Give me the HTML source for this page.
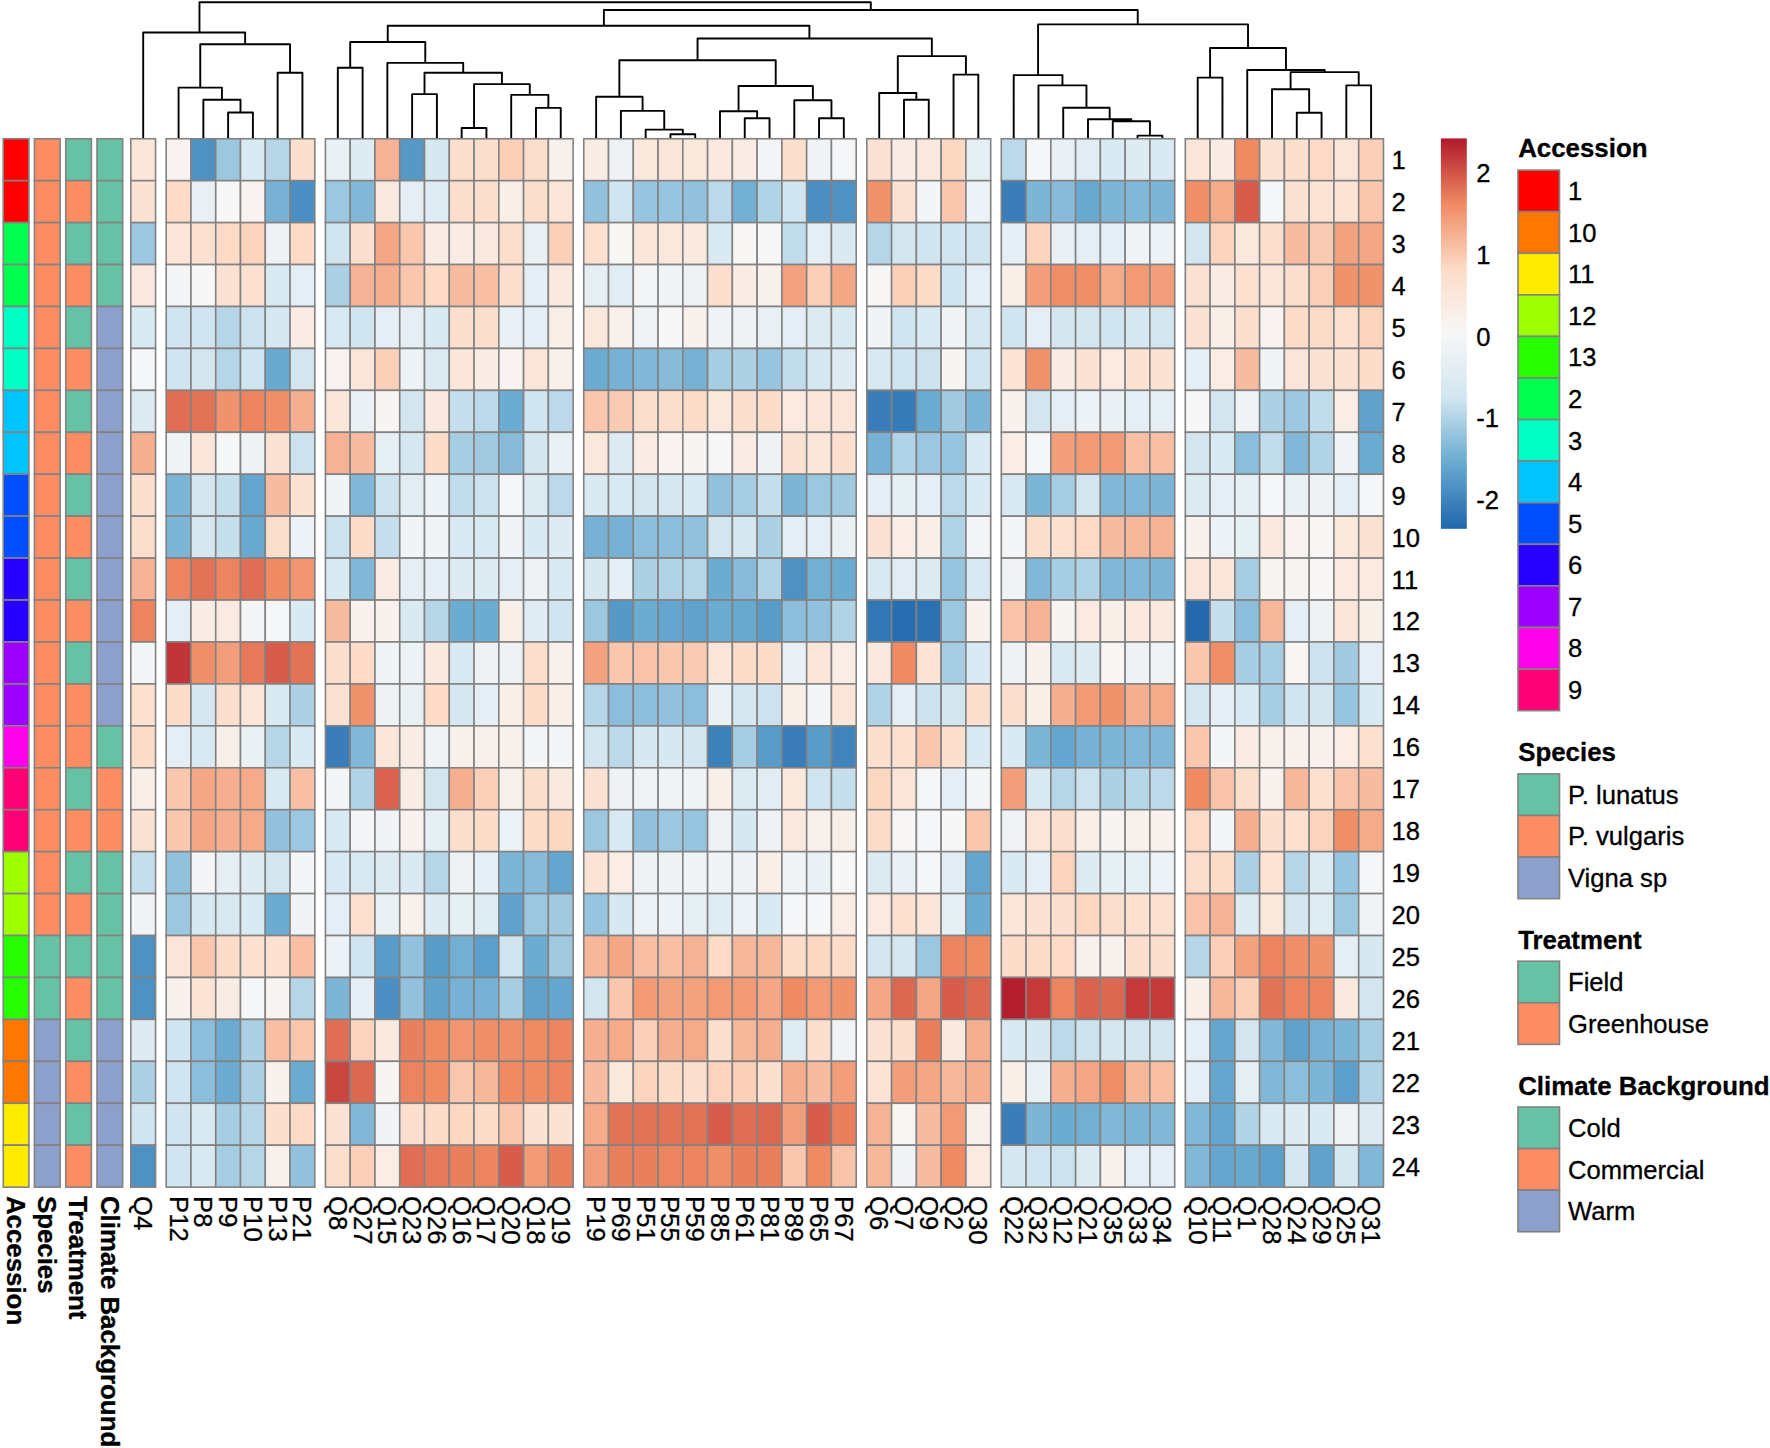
<!DOCTYPE html>
<html><head><meta charset="utf-8"><title>Heatmap</title>
<style>
html,body{margin:0;padding:0;background:#fff;}
body{width:1770px;height:1448px;overflow:hidden;}
svg{display:block;}
text{font-family:"Liberation Sans",Arial,Helvetica,sans-serif;font-size:25.6px;fill:#000;stroke:#000;stroke-width:0.3px;}
.b{font-weight:bold;font-size:25.85px;}
</style></head><body>
<svg width="1770" height="1448" viewBox="0 0 1770 1448">
<defs><linearGradient id="cb" x1="0" y1="0" x2="0" y2="1"><stop offset="0.0000" stop-color="#B2182B"/><stop offset="0.1667" stop-color="#EF8A62"/><stop offset="0.3333" stop-color="#FDDBC7"/><stop offset="0.5000" stop-color="#F7F7F7"/><stop offset="0.6667" stop-color="#D1E5F0"/><stop offset="0.8333" stop-color="#67A9CF"/><stop offset="1.0000" stop-color="#2166AC"/></linearGradient></defs>
<rect x="0" y="0" width="1770" height="1448" fill="#fff"/>
<g id="annotations" shape-rendering="auto">
<rect x="3.25" y="138.75" width="25.65" height="41.94" fill="#FF0000" stroke="#828282" stroke-width="1.60"/><rect x="3.25" y="180.69" width="25.65" height="41.94" fill="#FF0000" stroke="#828282" stroke-width="1.60"/><rect x="3.25" y="222.62" width="25.65" height="41.94" fill="#00FF4E" stroke="#828282" stroke-width="1.60"/><rect x="3.25" y="264.56" width="25.65" height="41.94" fill="#00FF4E" stroke="#828282" stroke-width="1.60"/><rect x="3.25" y="306.49" width="25.65" height="41.94" fill="#00FFC4" stroke="#828282" stroke-width="1.60"/><rect x="3.25" y="348.43" width="25.65" height="41.94" fill="#00FFC4" stroke="#828282" stroke-width="1.60"/><rect x="3.25" y="390.37" width="25.65" height="41.94" fill="#00C4FF" stroke="#828282" stroke-width="1.60"/><rect x="3.25" y="432.30" width="25.65" height="41.94" fill="#00C4FF" stroke="#828282" stroke-width="1.60"/><rect x="3.25" y="474.24" width="25.65" height="41.94" fill="#004EFF" stroke="#828282" stroke-width="1.60"/><rect x="3.25" y="516.17" width="25.65" height="41.94" fill="#004EFF" stroke="#828282" stroke-width="1.60"/><rect x="3.25" y="558.11" width="25.65" height="41.94" fill="#2700FF" stroke="#828282" stroke-width="1.60"/><rect x="3.25" y="600.05" width="25.65" height="41.94" fill="#2700FF" stroke="#828282" stroke-width="1.60"/><rect x="3.25" y="641.98" width="25.65" height="41.94" fill="#9D00FF" stroke="#828282" stroke-width="1.60"/><rect x="3.25" y="683.92" width="25.65" height="41.94" fill="#9D00FF" stroke="#828282" stroke-width="1.60"/><rect x="3.25" y="725.85" width="25.65" height="41.94" fill="#FF00EB" stroke="#828282" stroke-width="1.60"/><rect x="3.25" y="767.79" width="25.65" height="41.94" fill="#FF0076" stroke="#828282" stroke-width="1.60"/><rect x="3.25" y="809.73" width="25.65" height="41.94" fill="#FF0076" stroke="#828282" stroke-width="1.60"/><rect x="3.25" y="851.66" width="25.65" height="41.94" fill="#9DFF00" stroke="#828282" stroke-width="1.60"/><rect x="3.25" y="893.60" width="25.65" height="41.94" fill="#9DFF00" stroke="#828282" stroke-width="1.60"/><rect x="3.25" y="935.53" width="25.65" height="41.94" fill="#27FF00" stroke="#828282" stroke-width="1.60"/><rect x="3.25" y="977.47" width="25.65" height="41.94" fill="#27FF00" stroke="#828282" stroke-width="1.60"/><rect x="3.25" y="1019.41" width="25.65" height="41.94" fill="#FF7600" stroke="#828282" stroke-width="1.60"/><rect x="3.25" y="1061.34" width="25.65" height="41.94" fill="#FF7600" stroke="#828282" stroke-width="1.60"/><rect x="3.25" y="1103.28" width="25.65" height="41.94" fill="#FFEB00" stroke="#828282" stroke-width="1.60"/><rect x="3.25" y="1145.21" width="25.65" height="41.94" fill="#FFEB00" stroke="#828282" stroke-width="1.60"/>
<rect x="34.45" y="138.75" width="25.65" height="41.94" fill="#FC8D62" stroke="#828282" stroke-width="1.60"/><rect x="34.45" y="180.69" width="25.65" height="41.94" fill="#FC8D62" stroke="#828282" stroke-width="1.60"/><rect x="34.45" y="222.62" width="25.65" height="41.94" fill="#FC8D62" stroke="#828282" stroke-width="1.60"/><rect x="34.45" y="264.56" width="25.65" height="41.94" fill="#FC8D62" stroke="#828282" stroke-width="1.60"/><rect x="34.45" y="306.49" width="25.65" height="41.94" fill="#FC8D62" stroke="#828282" stroke-width="1.60"/><rect x="34.45" y="348.43" width="25.65" height="41.94" fill="#FC8D62" stroke="#828282" stroke-width="1.60"/><rect x="34.45" y="390.37" width="25.65" height="41.94" fill="#FC8D62" stroke="#828282" stroke-width="1.60"/><rect x="34.45" y="432.30" width="25.65" height="41.94" fill="#FC8D62" stroke="#828282" stroke-width="1.60"/><rect x="34.45" y="474.24" width="25.65" height="41.94" fill="#FC8D62" stroke="#828282" stroke-width="1.60"/><rect x="34.45" y="516.17" width="25.65" height="41.94" fill="#FC8D62" stroke="#828282" stroke-width="1.60"/><rect x="34.45" y="558.11" width="25.65" height="41.94" fill="#FC8D62" stroke="#828282" stroke-width="1.60"/><rect x="34.45" y="600.05" width="25.65" height="41.94" fill="#FC8D62" stroke="#828282" stroke-width="1.60"/><rect x="34.45" y="641.98" width="25.65" height="41.94" fill="#FC8D62" stroke="#828282" stroke-width="1.60"/><rect x="34.45" y="683.92" width="25.65" height="41.94" fill="#FC8D62" stroke="#828282" stroke-width="1.60"/><rect x="34.45" y="725.85" width="25.65" height="41.94" fill="#FC8D62" stroke="#828282" stroke-width="1.60"/><rect x="34.45" y="767.79" width="25.65" height="41.94" fill="#FC8D62" stroke="#828282" stroke-width="1.60"/><rect x="34.45" y="809.73" width="25.65" height="41.94" fill="#FC8D62" stroke="#828282" stroke-width="1.60"/><rect x="34.45" y="851.66" width="25.65" height="41.94" fill="#FC8D62" stroke="#828282" stroke-width="1.60"/><rect x="34.45" y="893.60" width="25.65" height="41.94" fill="#FC8D62" stroke="#828282" stroke-width="1.60"/><rect x="34.45" y="935.53" width="25.65" height="41.94" fill="#66C2A5" stroke="#828282" stroke-width="1.60"/><rect x="34.45" y="977.47" width="25.65" height="41.94" fill="#66C2A5" stroke="#828282" stroke-width="1.60"/><rect x="34.45" y="1019.41" width="25.65" height="41.94" fill="#8DA0CB" stroke="#828282" stroke-width="1.60"/><rect x="34.45" y="1061.34" width="25.65" height="41.94" fill="#8DA0CB" stroke="#828282" stroke-width="1.60"/><rect x="34.45" y="1103.28" width="25.65" height="41.94" fill="#8DA0CB" stroke="#828282" stroke-width="1.60"/><rect x="34.45" y="1145.21" width="25.65" height="41.94" fill="#8DA0CB" stroke="#828282" stroke-width="1.60"/>
<rect x="65.75" y="138.75" width="25.65" height="41.94" fill="#66C2A5" stroke="#828282" stroke-width="1.60"/><rect x="65.75" y="180.69" width="25.65" height="41.94" fill="#FC8D62" stroke="#828282" stroke-width="1.60"/><rect x="65.75" y="222.62" width="25.65" height="41.94" fill="#66C2A5" stroke="#828282" stroke-width="1.60"/><rect x="65.75" y="264.56" width="25.65" height="41.94" fill="#FC8D62" stroke="#828282" stroke-width="1.60"/><rect x="65.75" y="306.49" width="25.65" height="41.94" fill="#66C2A5" stroke="#828282" stroke-width="1.60"/><rect x="65.75" y="348.43" width="25.65" height="41.94" fill="#FC8D62" stroke="#828282" stroke-width="1.60"/><rect x="65.75" y="390.37" width="25.65" height="41.94" fill="#66C2A5" stroke="#828282" stroke-width="1.60"/><rect x="65.75" y="432.30" width="25.65" height="41.94" fill="#FC8D62" stroke="#828282" stroke-width="1.60"/><rect x="65.75" y="474.24" width="25.65" height="41.94" fill="#66C2A5" stroke="#828282" stroke-width="1.60"/><rect x="65.75" y="516.17" width="25.65" height="41.94" fill="#FC8D62" stroke="#828282" stroke-width="1.60"/><rect x="65.75" y="558.11" width="25.65" height="41.94" fill="#66C2A5" stroke="#828282" stroke-width="1.60"/><rect x="65.75" y="600.05" width="25.65" height="41.94" fill="#FC8D62" stroke="#828282" stroke-width="1.60"/><rect x="65.75" y="641.98" width="25.65" height="41.94" fill="#66C2A5" stroke="#828282" stroke-width="1.60"/><rect x="65.75" y="683.92" width="25.65" height="41.94" fill="#FC8D62" stroke="#828282" stroke-width="1.60"/><rect x="65.75" y="725.85" width="25.65" height="41.94" fill="#FC8D62" stroke="#828282" stroke-width="1.60"/><rect x="65.75" y="767.79" width="25.65" height="41.94" fill="#66C2A5" stroke="#828282" stroke-width="1.60"/><rect x="65.75" y="809.73" width="25.65" height="41.94" fill="#FC8D62" stroke="#828282" stroke-width="1.60"/><rect x="65.75" y="851.66" width="25.65" height="41.94" fill="#66C2A5" stroke="#828282" stroke-width="1.60"/><rect x="65.75" y="893.60" width="25.65" height="41.94" fill="#FC8D62" stroke="#828282" stroke-width="1.60"/><rect x="65.75" y="935.53" width="25.65" height="41.94" fill="#66C2A5" stroke="#828282" stroke-width="1.60"/><rect x="65.75" y="977.47" width="25.65" height="41.94" fill="#FC8D62" stroke="#828282" stroke-width="1.60"/><rect x="65.75" y="1019.41" width="25.65" height="41.94" fill="#66C2A5" stroke="#828282" stroke-width="1.60"/><rect x="65.75" y="1061.34" width="25.65" height="41.94" fill="#FC8D62" stroke="#828282" stroke-width="1.60"/><rect x="65.75" y="1103.28" width="25.65" height="41.94" fill="#66C2A5" stroke="#828282" stroke-width="1.60"/><rect x="65.75" y="1145.21" width="25.65" height="41.94" fill="#FC8D62" stroke="#828282" stroke-width="1.60"/>
<rect x="97.00" y="138.75" width="25.65" height="41.94" fill="#66C2A5" stroke="#828282" stroke-width="1.60"/><rect x="97.00" y="180.69" width="25.65" height="41.94" fill="#66C2A5" stroke="#828282" stroke-width="1.60"/><rect x="97.00" y="222.62" width="25.65" height="41.94" fill="#66C2A5" stroke="#828282" stroke-width="1.60"/><rect x="97.00" y="264.56" width="25.65" height="41.94" fill="#66C2A5" stroke="#828282" stroke-width="1.60"/><rect x="97.00" y="306.49" width="25.65" height="41.94" fill="#8DA0CB" stroke="#828282" stroke-width="1.60"/><rect x="97.00" y="348.43" width="25.65" height="41.94" fill="#8DA0CB" stroke="#828282" stroke-width="1.60"/><rect x="97.00" y="390.37" width="25.65" height="41.94" fill="#8DA0CB" stroke="#828282" stroke-width="1.60"/><rect x="97.00" y="432.30" width="25.65" height="41.94" fill="#8DA0CB" stroke="#828282" stroke-width="1.60"/><rect x="97.00" y="474.24" width="25.65" height="41.94" fill="#8DA0CB" stroke="#828282" stroke-width="1.60"/><rect x="97.00" y="516.17" width="25.65" height="41.94" fill="#8DA0CB" stroke="#828282" stroke-width="1.60"/><rect x="97.00" y="558.11" width="25.65" height="41.94" fill="#8DA0CB" stroke="#828282" stroke-width="1.60"/><rect x="97.00" y="600.05" width="25.65" height="41.94" fill="#8DA0CB" stroke="#828282" stroke-width="1.60"/><rect x="97.00" y="641.98" width="25.65" height="41.94" fill="#8DA0CB" stroke="#828282" stroke-width="1.60"/><rect x="97.00" y="683.92" width="25.65" height="41.94" fill="#8DA0CB" stroke="#828282" stroke-width="1.60"/><rect x="97.00" y="725.85" width="25.65" height="41.94" fill="#66C2A5" stroke="#828282" stroke-width="1.60"/><rect x="97.00" y="767.79" width="25.65" height="41.94" fill="#FC8D62" stroke="#828282" stroke-width="1.60"/><rect x="97.00" y="809.73" width="25.65" height="41.94" fill="#FC8D62" stroke="#828282" stroke-width="1.60"/><rect x="97.00" y="851.66" width="25.65" height="41.94" fill="#66C2A5" stroke="#828282" stroke-width="1.60"/><rect x="97.00" y="893.60" width="25.65" height="41.94" fill="#66C2A5" stroke="#828282" stroke-width="1.60"/><rect x="97.00" y="935.53" width="25.65" height="41.94" fill="#66C2A5" stroke="#828282" stroke-width="1.60"/><rect x="97.00" y="977.47" width="25.65" height="41.94" fill="#66C2A5" stroke="#828282" stroke-width="1.60"/><rect x="97.00" y="1019.41" width="25.65" height="41.94" fill="#8DA0CB" stroke="#828282" stroke-width="1.60"/><rect x="97.00" y="1061.34" width="25.65" height="41.94" fill="#8DA0CB" stroke="#828282" stroke-width="1.60"/><rect x="97.00" y="1103.28" width="25.65" height="41.94" fill="#8DA0CB" stroke="#828282" stroke-width="1.60"/><rect x="97.00" y="1145.21" width="25.65" height="41.94" fill="#8DA0CB" stroke="#828282" stroke-width="1.60"/>
</g>
<g id="cells" stroke="#828282" stroke-width="1.60">
<rect x="130.80" y="138.75" width="24.770" height="41.94" fill="#FBE6DA"/><rect x="166.19" y="138.75" width="24.770" height="41.94" fill="#F8F3F0"/><rect x="190.96" y="138.75" width="24.770" height="41.94" fill="#4E92C3"/><rect x="215.73" y="138.75" width="24.770" height="41.94" fill="#9CC7E0"/><rect x="240.50" y="138.75" width="24.770" height="41.94" fill="#DAEAF2"/><rect x="265.27" y="138.75" width="24.770" height="41.94" fill="#B6D6E8"/><rect x="290.04" y="138.75" width="24.770" height="41.94" fill="#FCDFCE"/><rect x="325.43" y="138.75" width="24.770" height="41.94" fill="#EAF1F5"/><rect x="350.20" y="138.75" width="24.770" height="41.94" fill="#DEEBF2"/><rect x="374.97" y="138.75" width="24.770" height="41.94" fill="#F6B294"/><rect x="399.74" y="138.75" width="24.770" height="41.94" fill="#5698C6"/><rect x="424.51" y="138.75" width="24.770" height="41.94" fill="#D7E8F1"/><rect x="449.28" y="138.75" width="24.770" height="41.94" fill="#FCDECC"/><rect x="474.05" y="138.75" width="24.770" height="41.94" fill="#FCDECC"/><rect x="498.82" y="138.75" width="24.770" height="41.94" fill="#FBCFB8"/><rect x="523.59" y="138.75" width="24.770" height="41.94" fill="#FCDECC"/><rect x="548.36" y="138.75" width="24.770" height="41.94" fill="#F8F0EB"/><rect x="583.75" y="138.75" width="24.770" height="41.94" fill="#F9ECE4"/><rect x="608.52" y="138.75" width="24.770" height="41.94" fill="#EEF2F5"/><rect x="633.29" y="138.75" width="24.770" height="41.94" fill="#FAE8DD"/><rect x="658.06" y="138.75" width="24.770" height="41.94" fill="#FBE5D8"/><rect x="682.83" y="138.75" width="24.770" height="41.94" fill="#FAE8DD"/><rect x="707.60" y="138.75" width="24.770" height="41.94" fill="#FAE9DF"/><rect x="732.37" y="138.75" width="24.770" height="41.94" fill="#F9ECE4"/><rect x="757.14" y="138.75" width="24.770" height="41.94" fill="#F3F5F6"/><rect x="781.91" y="138.75" width="24.770" height="41.94" fill="#FCDECC"/><rect x="806.68" y="138.75" width="24.770" height="41.94" fill="#F1F4F6"/><rect x="831.45" y="138.75" width="24.770" height="41.94" fill="#F5F6F7"/><rect x="866.84" y="138.75" width="24.770" height="41.94" fill="#FCE2D3"/><rect x="891.61" y="138.75" width="24.770" height="41.94" fill="#F9ECE4"/><rect x="916.38" y="138.75" width="24.770" height="41.94" fill="#FAE9DF"/><rect x="941.15" y="138.75" width="24.770" height="41.94" fill="#FCD7C2"/><rect x="965.92" y="138.75" width="24.770" height="41.94" fill="#E6EFF4"/><rect x="1001.31" y="138.75" width="24.770" height="41.94" fill="#BCD9E9"/><rect x="1026.08" y="138.75" width="24.770" height="41.94" fill="#F5F6F7"/><rect x="1050.85" y="138.75" width="24.770" height="41.94" fill="#E8F0F4"/><rect x="1075.62" y="138.75" width="24.770" height="41.94" fill="#E2EDF3"/><rect x="1100.39" y="138.75" width="24.770" height="41.94" fill="#DAEAF2"/><rect x="1125.16" y="138.75" width="24.770" height="41.94" fill="#DEEBF2"/><rect x="1149.93" y="138.75" width="24.770" height="41.94" fill="#DAEAF2"/><rect x="1185.32" y="138.75" width="24.770" height="41.94" fill="#FBE6DA"/><rect x="1210.09" y="138.75" width="24.770" height="41.94" fill="#F9ECE4"/><rect x="1234.86" y="138.75" width="24.770" height="41.94" fill="#EF8A62"/><rect x="1259.63" y="138.75" width="24.770" height="41.94" fill="#FCE2D3"/><rect x="1284.40" y="138.75" width="24.770" height="41.94" fill="#FCDFCE"/><rect x="1309.17" y="138.75" width="24.770" height="41.94" fill="#FDDBC7"/><rect x="1333.94" y="138.75" width="24.770" height="41.94" fill="#FBE5D8"/><rect x="1358.71" y="138.75" width="24.770" height="41.94" fill="#FBCFB8"/>
<rect x="130.80" y="180.69" width="24.770" height="41.94" fill="#FCE2D3"/><rect x="166.19" y="180.69" width="24.770" height="41.94" fill="#FDDBC7"/><rect x="190.96" y="180.69" width="24.770" height="41.94" fill="#E8F0F4"/><rect x="215.73" y="180.69" width="24.770" height="41.94" fill="#F7F7F7"/><rect x="240.50" y="180.69" width="24.770" height="41.94" fill="#F8F3F0"/><rect x="265.27" y="180.69" width="24.770" height="41.94" fill="#77B2D4"/><rect x="290.04" y="180.69" width="24.770" height="41.94" fill="#4B8EC1"/><rect x="325.43" y="180.69" width="24.770" height="41.94" fill="#9CC7E0"/><rect x="350.20" y="180.69" width="24.770" height="41.94" fill="#82B8D7"/><rect x="374.97" y="180.69" width="24.770" height="41.94" fill="#FAE9DF"/><rect x="399.74" y="180.69" width="24.770" height="41.94" fill="#E4EEF4"/><rect x="424.51" y="180.69" width="24.770" height="41.94" fill="#E0ECF3"/><rect x="449.28" y="180.69" width="24.770" height="41.94" fill="#FCDECC"/><rect x="474.05" y="180.69" width="24.770" height="41.94" fill="#FCDECC"/><rect x="498.82" y="180.69" width="24.770" height="41.94" fill="#F9EFE9"/><rect x="523.59" y="180.69" width="24.770" height="41.94" fill="#FCDECC"/><rect x="548.36" y="180.69" width="24.770" height="41.94" fill="#FBE5D8"/><rect x="583.75" y="180.69" width="24.770" height="41.94" fill="#91C1DC"/><rect x="608.52" y="180.69" width="24.770" height="41.94" fill="#D1E5F0"/><rect x="633.29" y="180.69" width="24.770" height="41.94" fill="#97C4DE"/><rect x="658.06" y="180.69" width="24.770" height="41.94" fill="#97C4DE"/><rect x="682.83" y="180.69" width="24.770" height="41.94" fill="#91C1DC"/><rect x="707.60" y="180.69" width="24.770" height="41.94" fill="#BCD9E9"/><rect x="732.37" y="180.69" width="24.770" height="41.94" fill="#72AFD2"/><rect x="757.14" y="180.69" width="24.770" height="41.94" fill="#B1D3E6"/><rect x="781.91" y="180.69" width="24.770" height="41.94" fill="#D1E5F0"/><rect x="806.68" y="180.69" width="24.770" height="41.94" fill="#4B8EC1"/><rect x="831.45" y="180.69" width="24.770" height="41.94" fill="#4E92C3"/><rect x="866.84" y="180.69" width="24.770" height="41.94" fill="#F0926C"/><rect x="891.61" y="180.69" width="24.770" height="41.94" fill="#FCE2D3"/><rect x="916.38" y="180.69" width="24.770" height="41.94" fill="#F3F5F6"/><rect x="941.15" y="180.69" width="24.770" height="41.94" fill="#FAC7AE"/><rect x="965.92" y="180.69" width="24.770" height="41.94" fill="#ECF2F5"/><rect x="1001.31" y="180.69" width="24.770" height="41.94" fill="#3A7DB8"/><rect x="1026.08" y="180.69" width="24.770" height="41.94" fill="#7CB5D6"/><rect x="1050.85" y="180.69" width="24.770" height="41.94" fill="#87BBD9"/><rect x="1075.62" y="180.69" width="24.770" height="41.94" fill="#67A9CF"/><rect x="1100.39" y="180.69" width="24.770" height="41.94" fill="#7CB5D6"/><rect x="1125.16" y="180.69" width="24.770" height="41.94" fill="#82B8D7"/><rect x="1149.93" y="180.69" width="24.770" height="41.94" fill="#7CB5D6"/><rect x="1185.32" y="180.69" width="24.770" height="41.94" fill="#F08E67"/><rect x="1210.09" y="180.69" width="24.770" height="41.94" fill="#F5AA8A"/><rect x="1234.86" y="180.69" width="24.770" height="41.94" fill="#D75C4C"/><rect x="1259.63" y="180.69" width="24.770" height="41.94" fill="#F5F6F7"/><rect x="1284.40" y="180.69" width="24.770" height="41.94" fill="#FCE2D3"/><rect x="1309.17" y="180.69" width="24.770" height="41.94" fill="#FBE3D5"/><rect x="1333.94" y="180.69" width="24.770" height="41.94" fill="#FBE3D5"/><rect x="1358.71" y="180.69" width="24.770" height="41.94" fill="#FAC7AE"/>
<rect x="130.80" y="222.62" width="24.770" height="41.94" fill="#9CC7E0"/><rect x="166.19" y="222.62" width="24.770" height="41.94" fill="#FBE5D8"/><rect x="190.96" y="222.62" width="24.770" height="41.94" fill="#FCE1D1"/><rect x="215.73" y="222.62" width="24.770" height="41.94" fill="#FDDBC7"/><rect x="240.50" y="222.62" width="24.770" height="41.94" fill="#FCD3BD"/><rect x="265.27" y="222.62" width="24.770" height="41.94" fill="#EEF2F5"/><rect x="290.04" y="222.62" width="24.770" height="41.94" fill="#FDDBC7"/><rect x="325.43" y="222.62" width="24.770" height="41.94" fill="#D1E5F0"/><rect x="350.20" y="222.62" width="24.770" height="41.94" fill="#FCDFCE"/><rect x="374.97" y="222.62" width="24.770" height="41.94" fill="#F4A685"/><rect x="399.74" y="222.62" width="24.770" height="41.94" fill="#FAC7AE"/><rect x="424.51" y="222.62" width="24.770" height="41.94" fill="#F9ECE4"/><rect x="449.28" y="222.62" width="24.770" height="41.94" fill="#F9ECE4"/><rect x="474.05" y="222.62" width="24.770" height="41.94" fill="#FAE9DF"/><rect x="498.82" y="222.62" width="24.770" height="41.94" fill="#FCDECC"/><rect x="523.59" y="222.62" width="24.770" height="41.94" fill="#E8F0F4"/><rect x="548.36" y="222.62" width="24.770" height="41.94" fill="#FBCFB8"/><rect x="583.75" y="222.62" width="24.770" height="41.94" fill="#FCE1D1"/><rect x="608.52" y="222.62" width="24.770" height="41.94" fill="#F7F6F5"/><rect x="633.29" y="222.62" width="24.770" height="41.94" fill="#FBE6DA"/><rect x="658.06" y="222.62" width="24.770" height="41.94" fill="#FAE8DD"/><rect x="682.83" y="222.62" width="24.770" height="41.94" fill="#FAE9DF"/><rect x="707.60" y="222.62" width="24.770" height="41.94" fill="#DAEAF2"/><rect x="732.37" y="222.62" width="24.770" height="41.94" fill="#F7F6F5"/><rect x="757.14" y="222.62" width="24.770" height="41.94" fill="#F7F7F7"/><rect x="781.91" y="222.62" width="24.770" height="41.94" fill="#C1DCEB"/><rect x="806.68" y="222.62" width="24.770" height="41.94" fill="#E4EEF4"/><rect x="831.45" y="222.62" width="24.770" height="41.94" fill="#DAEAF2"/><rect x="866.84" y="222.62" width="24.770" height="41.94" fill="#B6D6E8"/><rect x="891.61" y="222.62" width="24.770" height="41.94" fill="#D3E6F0"/><rect x="916.38" y="222.62" width="24.770" height="41.94" fill="#D1E5F0"/><rect x="941.15" y="222.62" width="24.770" height="41.94" fill="#D1E5F0"/><rect x="965.92" y="222.62" width="24.770" height="41.94" fill="#D1E5F0"/><rect x="1001.31" y="222.62" width="24.770" height="41.94" fill="#E4EEF4"/><rect x="1026.08" y="222.62" width="24.770" height="41.94" fill="#FCD3BD"/><rect x="1050.85" y="222.62" width="24.770" height="41.94" fill="#E8F0F4"/><rect x="1075.62" y="222.62" width="24.770" height="41.94" fill="#E4EEF4"/><rect x="1100.39" y="222.62" width="24.770" height="41.94" fill="#E4EEF4"/><rect x="1125.16" y="222.62" width="24.770" height="41.94" fill="#EFF3F6"/><rect x="1149.93" y="222.62" width="24.770" height="41.94" fill="#ECF2F5"/><rect x="1185.32" y="222.62" width="24.770" height="41.94" fill="#D3E6F0"/><rect x="1210.09" y="222.62" width="24.770" height="41.94" fill="#FCD3BD"/><rect x="1234.86" y="222.62" width="24.770" height="41.94" fill="#FAE8DD"/><rect x="1259.63" y="222.62" width="24.770" height="41.94" fill="#FCDECC"/><rect x="1284.40" y="222.62" width="24.770" height="41.94" fill="#F7BB9F"/><rect x="1309.17" y="222.62" width="24.770" height="41.94" fill="#FACBB3"/><rect x="1333.94" y="222.62" width="24.770" height="41.94" fill="#F3A280"/><rect x="1358.71" y="222.62" width="24.770" height="41.94" fill="#F4A685"/>
<rect x="130.80" y="264.56" width="24.770" height="41.94" fill="#FAE9DF"/><rect x="166.19" y="264.56" width="24.770" height="41.94" fill="#F3F5F6"/><rect x="190.96" y="264.56" width="24.770" height="41.94" fill="#F7F7F7"/><rect x="215.73" y="264.56" width="24.770" height="41.94" fill="#FCE2D3"/><rect x="240.50" y="264.56" width="24.770" height="41.94" fill="#FCE1D1"/><rect x="265.27" y="264.56" width="24.770" height="41.94" fill="#DAEAF2"/><rect x="290.04" y="264.56" width="24.770" height="41.94" fill="#E4EEF4"/><rect x="325.43" y="264.56" width="24.770" height="41.94" fill="#ACD0E4"/><rect x="350.20" y="264.56" width="24.770" height="41.94" fill="#F6B294"/><rect x="374.97" y="264.56" width="24.770" height="41.94" fill="#F5AE8F"/><rect x="399.74" y="264.56" width="24.770" height="41.94" fill="#FAC7AE"/><rect x="424.51" y="264.56" width="24.770" height="41.94" fill="#FDDBC7"/><rect x="449.28" y="264.56" width="24.770" height="41.94" fill="#F7BB9F"/><rect x="474.05" y="264.56" width="24.770" height="41.94" fill="#F8BFA4"/><rect x="498.82" y="264.56" width="24.770" height="41.94" fill="#FCDFCE"/><rect x="523.59" y="264.56" width="24.770" height="41.94" fill="#E4EEF4"/><rect x="548.36" y="264.56" width="24.770" height="41.94" fill="#FAE9DF"/><rect x="583.75" y="264.56" width="24.770" height="41.94" fill="#E6EFF4"/><rect x="608.52" y="264.56" width="24.770" height="41.94" fill="#E2EDF3"/><rect x="633.29" y="264.56" width="24.770" height="41.94" fill="#F3F5F6"/><rect x="658.06" y="264.56" width="24.770" height="41.94" fill="#F1F4F6"/><rect x="682.83" y="264.56" width="24.770" height="41.94" fill="#EEF2F5"/><rect x="707.60" y="264.56" width="24.770" height="41.94" fill="#FCDFCE"/><rect x="732.37" y="264.56" width="24.770" height="41.94" fill="#F9ECE4"/><rect x="757.14" y="264.56" width="24.770" height="41.94" fill="#F8F0EB"/><rect x="781.91" y="264.56" width="24.770" height="41.94" fill="#F3A280"/><rect x="806.68" y="264.56" width="24.770" height="41.94" fill="#FBCFB8"/><rect x="831.45" y="264.56" width="24.770" height="41.94" fill="#F4A685"/><rect x="866.84" y="264.56" width="24.770" height="41.94" fill="#F7F6F5"/><rect x="891.61" y="264.56" width="24.770" height="41.94" fill="#FBCFB8"/><rect x="916.38" y="264.56" width="24.770" height="41.94" fill="#FDDCC9"/><rect x="941.15" y="264.56" width="24.770" height="41.94" fill="#D1E5F0"/><rect x="965.92" y="264.56" width="24.770" height="41.94" fill="#E4EEF4"/><rect x="1001.31" y="264.56" width="24.770" height="41.94" fill="#F9EFE9"/><rect x="1026.08" y="264.56" width="24.770" height="41.94" fill="#F29E7B"/><rect x="1050.85" y="264.56" width="24.770" height="41.94" fill="#F08E67"/><rect x="1075.62" y="264.56" width="24.770" height="41.94" fill="#F08E67"/><rect x="1100.39" y="264.56" width="24.770" height="41.94" fill="#F5AA8A"/><rect x="1125.16" y="264.56" width="24.770" height="41.94" fill="#F29A76"/><rect x="1149.93" y="264.56" width="24.770" height="41.94" fill="#F29E7B"/><rect x="1185.32" y="264.56" width="24.770" height="41.94" fill="#FCE2D3"/><rect x="1210.09" y="264.56" width="24.770" height="41.94" fill="#F9ECE4"/><rect x="1234.86" y="264.56" width="24.770" height="41.94" fill="#FCE1D1"/><rect x="1259.63" y="264.56" width="24.770" height="41.94" fill="#FBE5D8"/><rect x="1284.40" y="264.56" width="24.770" height="41.94" fill="#FCDFCE"/><rect x="1309.17" y="264.56" width="24.770" height="41.94" fill="#FBCFB8"/><rect x="1333.94" y="264.56" width="24.770" height="41.94" fill="#F0926C"/><rect x="1358.71" y="264.56" width="24.770" height="41.94" fill="#F0926C"/>
<rect x="130.80" y="306.49" width="24.770" height="41.94" fill="#DAEAF2"/><rect x="166.19" y="306.49" width="24.770" height="41.94" fill="#D1E5F0"/><rect x="190.96" y="306.49" width="24.770" height="41.94" fill="#D1E5F0"/><rect x="215.73" y="306.49" width="24.770" height="41.94" fill="#B6D6E8"/><rect x="240.50" y="306.49" width="24.770" height="41.94" fill="#CCE2EE"/><rect x="265.27" y="306.49" width="24.770" height="41.94" fill="#D7E8F1"/><rect x="290.04" y="306.49" width="24.770" height="41.94" fill="#F9ECE4"/><rect x="325.43" y="306.49" width="24.770" height="41.94" fill="#D9E9F1"/><rect x="350.20" y="306.49" width="24.770" height="41.94" fill="#D1E5F0"/><rect x="374.97" y="306.49" width="24.770" height="41.94" fill="#E4EEF4"/><rect x="399.74" y="306.49" width="24.770" height="41.94" fill="#E4EEF4"/><rect x="424.51" y="306.49" width="24.770" height="41.94" fill="#DAEAF2"/><rect x="449.28" y="306.49" width="24.770" height="41.94" fill="#FCDFCE"/><rect x="474.05" y="306.49" width="24.770" height="41.94" fill="#FCDECC"/><rect x="498.82" y="306.49" width="24.770" height="41.94" fill="#EAF1F5"/><rect x="523.59" y="306.49" width="24.770" height="41.94" fill="#E4EEF4"/><rect x="548.36" y="306.49" width="24.770" height="41.94" fill="#F9EFE9"/><rect x="583.75" y="306.49" width="24.770" height="41.94" fill="#FAE8DD"/><rect x="608.52" y="306.49" width="24.770" height="41.94" fill="#F8F0EB"/><rect x="633.29" y="306.49" width="24.770" height="41.94" fill="#EFF3F6"/><rect x="658.06" y="306.49" width="24.770" height="41.94" fill="#F7F7F7"/><rect x="682.83" y="306.49" width="24.770" height="41.94" fill="#F8F1ED"/><rect x="707.60" y="306.49" width="24.770" height="41.94" fill="#F1F4F6"/><rect x="732.37" y="306.49" width="24.770" height="41.94" fill="#EEF2F5"/><rect x="757.14" y="306.49" width="24.770" height="41.94" fill="#E8F0F4"/><rect x="781.91" y="306.49" width="24.770" height="41.94" fill="#E4EEF4"/><rect x="806.68" y="306.49" width="24.770" height="41.94" fill="#DCEAF2"/><rect x="831.45" y="306.49" width="24.770" height="41.94" fill="#DAEAF2"/><rect x="866.84" y="306.49" width="24.770" height="41.94" fill="#F1F4F6"/><rect x="891.61" y="306.49" width="24.770" height="41.94" fill="#D1E5F0"/><rect x="916.38" y="306.49" width="24.770" height="41.94" fill="#DAEAF2"/><rect x="941.15" y="306.49" width="24.770" height="41.94" fill="#F1F4F6"/><rect x="965.92" y="306.49" width="24.770" height="41.94" fill="#D5E7F1"/><rect x="1001.31" y="306.49" width="24.770" height="41.94" fill="#D1E5F0"/><rect x="1026.08" y="306.49" width="24.770" height="41.94" fill="#E4EEF4"/><rect x="1050.85" y="306.49" width="24.770" height="41.94" fill="#D3E6F0"/><rect x="1075.62" y="306.49" width="24.770" height="41.94" fill="#D3E6F0"/><rect x="1100.39" y="306.49" width="24.770" height="41.94" fill="#D1E5F0"/><rect x="1125.16" y="306.49" width="24.770" height="41.94" fill="#D7E8F1"/><rect x="1149.93" y="306.49" width="24.770" height="41.94" fill="#D3E6F0"/><rect x="1185.32" y="306.49" width="24.770" height="41.94" fill="#FCE2D3"/><rect x="1210.09" y="306.49" width="24.770" height="41.94" fill="#F9EFE9"/><rect x="1234.86" y="306.49" width="24.770" height="41.94" fill="#FCDFCE"/><rect x="1259.63" y="306.49" width="24.770" height="41.94" fill="#F8F3F0"/><rect x="1284.40" y="306.49" width="24.770" height="41.94" fill="#FDDCC9"/><rect x="1309.17" y="306.49" width="24.770" height="41.94" fill="#FDDCC9"/><rect x="1333.94" y="306.49" width="24.770" height="41.94" fill="#FCE1D1"/><rect x="1358.71" y="306.49" width="24.770" height="41.94" fill="#FCD3BD"/>
<rect x="130.80" y="348.43" width="24.770" height="41.94" fill="#F5F6F7"/><rect x="166.19" y="348.43" width="24.770" height="41.94" fill="#D1E5F0"/><rect x="190.96" y="348.43" width="24.770" height="41.94" fill="#D3E6F0"/><rect x="215.73" y="348.43" width="24.770" height="41.94" fill="#B6D6E8"/><rect x="240.50" y="348.43" width="24.770" height="41.94" fill="#D1E5F0"/><rect x="265.27" y="348.43" width="24.770" height="41.94" fill="#67A9CF"/><rect x="290.04" y="348.43" width="24.770" height="41.94" fill="#D3E6F0"/><rect x="325.43" y="348.43" width="24.770" height="41.94" fill="#F8F3F0"/><rect x="350.20" y="348.43" width="24.770" height="41.94" fill="#FBE5D8"/><rect x="374.97" y="348.43" width="24.770" height="41.94" fill="#FBCFB8"/><rect x="399.74" y="348.43" width="24.770" height="41.94" fill="#ECF2F5"/><rect x="424.51" y="348.43" width="24.770" height="41.94" fill="#DCEAF2"/><rect x="449.28" y="348.43" width="24.770" height="41.94" fill="#FBE6DA"/><rect x="474.05" y="348.43" width="24.770" height="41.94" fill="#F9ECE4"/><rect x="498.82" y="348.43" width="24.770" height="41.94" fill="#F8F3F0"/><rect x="523.59" y="348.43" width="24.770" height="41.94" fill="#FBE5D8"/><rect x="548.36" y="348.43" width="24.770" height="41.94" fill="#F8F0EB"/><rect x="583.75" y="348.43" width="24.770" height="41.94" fill="#6CACD1"/><rect x="608.52" y="348.43" width="24.770" height="41.94" fill="#77B2D4"/><rect x="633.29" y="348.43" width="24.770" height="41.94" fill="#82B8D7"/><rect x="658.06" y="348.43" width="24.770" height="41.94" fill="#87BBD9"/><rect x="682.83" y="348.43" width="24.770" height="41.94" fill="#77B2D4"/><rect x="707.60" y="348.43" width="24.770" height="41.94" fill="#A7CDE3"/><rect x="732.37" y="348.43" width="24.770" height="41.94" fill="#ACD0E4"/><rect x="757.14" y="348.43" width="24.770" height="41.94" fill="#97C4DE"/><rect x="781.91" y="348.43" width="24.770" height="41.94" fill="#C1DCEB"/><rect x="806.68" y="348.43" width="24.770" height="41.94" fill="#D5E7F1"/><rect x="831.45" y="348.43" width="24.770" height="41.94" fill="#DEEBF2"/><rect x="866.84" y="348.43" width="24.770" height="41.94" fill="#D9E9F1"/><rect x="891.61" y="348.43" width="24.770" height="41.94" fill="#D1E5F0"/><rect x="916.38" y="348.43" width="24.770" height="41.94" fill="#CCE2EE"/><rect x="941.15" y="348.43" width="24.770" height="41.94" fill="#F8F4F2"/><rect x="965.92" y="348.43" width="24.770" height="41.94" fill="#D1E5F0"/><rect x="1001.31" y="348.43" width="24.770" height="41.94" fill="#FBE3D5"/><rect x="1026.08" y="348.43" width="24.770" height="41.94" fill="#F0926C"/><rect x="1050.85" y="348.43" width="24.770" height="41.94" fill="#F9ECE4"/><rect x="1075.62" y="348.43" width="24.770" height="41.94" fill="#FCE2D3"/><rect x="1100.39" y="348.43" width="24.770" height="41.94" fill="#FAEAE1"/><rect x="1125.16" y="348.43" width="24.770" height="41.94" fill="#FCE2D3"/><rect x="1149.93" y="348.43" width="24.770" height="41.94" fill="#FCE2D3"/><rect x="1185.32" y="348.43" width="24.770" height="41.94" fill="#E4EEF4"/><rect x="1210.09" y="348.43" width="24.770" height="41.94" fill="#F9EDE6"/><rect x="1234.86" y="348.43" width="24.770" height="41.94" fill="#F7BB9F"/><rect x="1259.63" y="348.43" width="24.770" height="41.94" fill="#F1F4F6"/><rect x="1284.40" y="348.43" width="24.770" height="41.94" fill="#FBE5D8"/><rect x="1309.17" y="348.43" width="24.770" height="41.94" fill="#FCE2D3"/><rect x="1333.94" y="348.43" width="24.770" height="41.94" fill="#FCE2D3"/><rect x="1358.71" y="348.43" width="24.770" height="41.94" fill="#FDDCC9"/>
<rect x="130.80" y="390.37" width="24.770" height="41.94" fill="#DCEAF2"/><rect x="166.19" y="390.37" width="24.770" height="41.94" fill="#E06E54"/><rect x="190.96" y="390.37" width="24.770" height="41.94" fill="#E37357"/><rect x="215.73" y="390.37" width="24.770" height="41.94" fill="#F0926C"/><rect x="240.50" y="390.37" width="24.770" height="41.94" fill="#EC845F"/><rect x="265.27" y="390.37" width="24.770" height="41.94" fill="#F08E67"/><rect x="290.04" y="390.37" width="24.770" height="41.94" fill="#F5AE8F"/><rect x="325.43" y="390.37" width="24.770" height="41.94" fill="#FBE6DA"/><rect x="350.20" y="390.37" width="24.770" height="41.94" fill="#EAF1F5"/><rect x="374.97" y="390.37" width="24.770" height="41.94" fill="#F8F4F2"/><rect x="399.74" y="390.37" width="24.770" height="41.94" fill="#D3E6F0"/><rect x="424.51" y="390.37" width="24.770" height="41.94" fill="#FAE9DF"/><rect x="449.28" y="390.37" width="24.770" height="41.94" fill="#C6DFED"/><rect x="474.05" y="390.37" width="24.770" height="41.94" fill="#BCD9E9"/><rect x="498.82" y="390.37" width="24.770" height="41.94" fill="#6CACD1"/><rect x="523.59" y="390.37" width="24.770" height="41.94" fill="#D1E5F0"/><rect x="548.36" y="390.37" width="24.770" height="41.94" fill="#BCD9E9"/><rect x="583.75" y="390.37" width="24.770" height="41.94" fill="#FAC7AE"/><rect x="608.52" y="390.37" width="24.770" height="41.94" fill="#FACBB3"/><rect x="633.29" y="390.37" width="24.770" height="41.94" fill="#FCDECC"/><rect x="658.06" y="390.37" width="24.770" height="41.94" fill="#FCDECC"/><rect x="682.83" y="390.37" width="24.770" height="41.94" fill="#FDDCC9"/><rect x="707.60" y="390.37" width="24.770" height="41.94" fill="#FAE8DD"/><rect x="732.37" y="390.37" width="24.770" height="41.94" fill="#FCDFCE"/><rect x="757.14" y="390.37" width="24.770" height="41.94" fill="#FDDCC9"/><rect x="781.91" y="390.37" width="24.770" height="41.94" fill="#FAEAE1"/><rect x="806.68" y="390.37" width="24.770" height="41.94" fill="#FBE5D8"/><rect x="831.45" y="390.37" width="24.770" height="41.94" fill="#FBE5D8"/><rect x="866.84" y="390.37" width="24.770" height="41.94" fill="#3A7DB8"/><rect x="891.61" y="390.37" width="24.770" height="41.94" fill="#367AB6"/><rect x="916.38" y="390.37" width="24.770" height="41.94" fill="#6CACD1"/><rect x="941.15" y="390.37" width="24.770" height="41.94" fill="#A1CAE1"/><rect x="965.92" y="390.37" width="24.770" height="41.94" fill="#7CB5D6"/><rect x="1001.31" y="390.37" width="24.770" height="41.94" fill="#F8F1ED"/><rect x="1026.08" y="390.37" width="24.770" height="41.94" fill="#D3E6F0"/><rect x="1050.85" y="390.37" width="24.770" height="41.94" fill="#E4EEF4"/><rect x="1075.62" y="390.37" width="24.770" height="41.94" fill="#ECF2F5"/><rect x="1100.39" y="390.37" width="24.770" height="41.94" fill="#EAF1F5"/><rect x="1125.16" y="390.37" width="24.770" height="41.94" fill="#E4EEF4"/><rect x="1149.93" y="390.37" width="24.770" height="41.94" fill="#E6EFF4"/><rect x="1185.32" y="390.37" width="24.770" height="41.94" fill="#F7F7F7"/><rect x="1210.09" y="390.37" width="24.770" height="41.94" fill="#D3E6F0"/><rect x="1234.86" y="390.37" width="24.770" height="41.94" fill="#EFF3F6"/><rect x="1259.63" y="390.37" width="24.770" height="41.94" fill="#ACD0E4"/><rect x="1284.40" y="390.37" width="24.770" height="41.94" fill="#9CC7E0"/><rect x="1309.17" y="390.37" width="24.770" height="41.94" fill="#C1DCEB"/><rect x="1333.94" y="390.37" width="24.770" height="41.94" fill="#F9EDE6"/><rect x="1358.71" y="390.37" width="24.770" height="41.94" fill="#60A2CC"/>
<rect x="130.80" y="432.30" width="24.770" height="41.94" fill="#F5AE8F"/><rect x="166.19" y="432.30" width="24.770" height="41.94" fill="#EFF3F6"/><rect x="190.96" y="432.30" width="24.770" height="41.94" fill="#FBE6DA"/><rect x="215.73" y="432.30" width="24.770" height="41.94" fill="#F5F6F7"/><rect x="240.50" y="432.30" width="24.770" height="41.94" fill="#EEF2F5"/><rect x="265.27" y="432.30" width="24.770" height="41.94" fill="#FCE2D3"/><rect x="290.04" y="432.30" width="24.770" height="41.94" fill="#CCE2EE"/><rect x="325.43" y="432.30" width="24.770" height="41.94" fill="#F6B294"/><rect x="350.20" y="432.30" width="24.770" height="41.94" fill="#F7BB9F"/><rect x="374.97" y="432.30" width="24.770" height="41.94" fill="#E6EFF4"/><rect x="399.74" y="432.30" width="24.770" height="41.94" fill="#D5E7F1"/><rect x="424.51" y="432.30" width="24.770" height="41.94" fill="#FDDCC9"/><rect x="449.28" y="432.30" width="24.770" height="41.94" fill="#A7CDE3"/><rect x="474.05" y="432.30" width="24.770" height="41.94" fill="#A1CAE1"/><rect x="498.82" y="432.30" width="24.770" height="41.94" fill="#87BBD9"/><rect x="523.59" y="432.30" width="24.770" height="41.94" fill="#D3E6F0"/><rect x="548.36" y="432.30" width="24.770" height="41.94" fill="#EAF1F5"/><rect x="583.75" y="432.30" width="24.770" height="41.94" fill="#FAE8DD"/><rect x="608.52" y="432.30" width="24.770" height="41.94" fill="#DCEAF2"/><rect x="633.29" y="432.30" width="24.770" height="41.94" fill="#F9ECE4"/><rect x="658.06" y="432.30" width="24.770" height="41.94" fill="#F8F3F0"/><rect x="682.83" y="432.30" width="24.770" height="41.94" fill="#F8F4F2"/><rect x="707.60" y="432.30" width="24.770" height="41.94" fill="#F7F7F7"/><rect x="732.37" y="432.30" width="24.770" height="41.94" fill="#F9ECE4"/><rect x="757.14" y="432.30" width="24.770" height="41.94" fill="#EEF2F5"/><rect x="781.91" y="432.30" width="24.770" height="41.94" fill="#FCE2D3"/><rect x="806.68" y="432.30" width="24.770" height="41.94" fill="#FBE6DA"/><rect x="831.45" y="432.30" width="24.770" height="41.94" fill="#FCDFCE"/><rect x="866.84" y="432.30" width="24.770" height="41.94" fill="#77B2D4"/><rect x="891.61" y="432.30" width="24.770" height="41.94" fill="#B1D3E6"/><rect x="916.38" y="432.30" width="24.770" height="41.94" fill="#9CC7E0"/><rect x="941.15" y="432.30" width="24.770" height="41.94" fill="#97C4DE"/><rect x="965.92" y="432.30" width="24.770" height="41.94" fill="#DAEAF2"/><rect x="1001.31" y="432.30" width="24.770" height="41.94" fill="#F9EDE6"/><rect x="1026.08" y="432.30" width="24.770" height="41.94" fill="#F5F6F7"/><rect x="1050.85" y="432.30" width="24.770" height="41.94" fill="#F29E7B"/><rect x="1075.62" y="432.30" width="24.770" height="41.94" fill="#F29A76"/><rect x="1100.39" y="432.30" width="24.770" height="41.94" fill="#F29A76"/><rect x="1125.16" y="432.30" width="24.770" height="41.94" fill="#F8BFA4"/><rect x="1149.93" y="432.30" width="24.770" height="41.94" fill="#F8BFA4"/><rect x="1185.32" y="432.30" width="24.770" height="41.94" fill="#D3E6F0"/><rect x="1210.09" y="432.30" width="24.770" height="41.94" fill="#D9E9F1"/><rect x="1234.86" y="432.30" width="24.770" height="41.94" fill="#8CBEDB"/><rect x="1259.63" y="432.30" width="24.770" height="41.94" fill="#C1DCEB"/><rect x="1284.40" y="432.30" width="24.770" height="41.94" fill="#82B8D7"/><rect x="1309.17" y="432.30" width="24.770" height="41.94" fill="#B1D3E6"/><rect x="1333.94" y="432.30" width="24.770" height="41.94" fill="#EFF3F6"/><rect x="1358.71" y="432.30" width="24.770" height="41.94" fill="#6CACD1"/>
<rect x="130.80" y="474.24" width="24.770" height="41.94" fill="#FCDFCE"/><rect x="166.19" y="474.24" width="24.770" height="41.94" fill="#7CB5D6"/><rect x="190.96" y="474.24" width="24.770" height="41.94" fill="#D3E6F0"/><rect x="215.73" y="474.24" width="24.770" height="41.94" fill="#C6DFED"/><rect x="240.50" y="474.24" width="24.770" height="41.94" fill="#64A6CD"/><rect x="265.27" y="474.24" width="24.770" height="41.94" fill="#F7BB9F"/><rect x="290.04" y="474.24" width="24.770" height="41.94" fill="#FCE2D3"/><rect x="325.43" y="474.24" width="24.770" height="41.94" fill="#F1F4F6"/><rect x="350.20" y="474.24" width="24.770" height="41.94" fill="#82B8D7"/><rect x="374.97" y="474.24" width="24.770" height="41.94" fill="#CCE2EE"/><rect x="399.74" y="474.24" width="24.770" height="41.94" fill="#E2EDF3"/><rect x="424.51" y="474.24" width="24.770" height="41.94" fill="#ECF2F5"/><rect x="449.28" y="474.24" width="24.770" height="41.94" fill="#C1DCEB"/><rect x="474.05" y="474.24" width="24.770" height="41.94" fill="#CCE2EE"/><rect x="498.82" y="474.24" width="24.770" height="41.94" fill="#F5F6F7"/><rect x="523.59" y="474.24" width="24.770" height="41.94" fill="#DCEAF2"/><rect x="548.36" y="474.24" width="24.770" height="41.94" fill="#BCD9E9"/><rect x="583.75" y="474.24" width="24.770" height="41.94" fill="#DAEAF2"/><rect x="608.52" y="474.24" width="24.770" height="41.94" fill="#D9E9F1"/><rect x="633.29" y="474.24" width="24.770" height="41.94" fill="#D3E6F0"/><rect x="658.06" y="474.24" width="24.770" height="41.94" fill="#D7E8F1"/><rect x="682.83" y="474.24" width="24.770" height="41.94" fill="#DAEAF2"/><rect x="707.60" y="474.24" width="24.770" height="41.94" fill="#91C1DC"/><rect x="732.37" y="474.24" width="24.770" height="41.94" fill="#A7CDE3"/><rect x="757.14" y="474.24" width="24.770" height="41.94" fill="#C6DFED"/><rect x="781.91" y="474.24" width="24.770" height="41.94" fill="#7CB5D6"/><rect x="806.68" y="474.24" width="24.770" height="41.94" fill="#9CC7E0"/><rect x="831.45" y="474.24" width="24.770" height="41.94" fill="#A1CAE1"/><rect x="866.84" y="474.24" width="24.770" height="41.94" fill="#E4EEF4"/><rect x="891.61" y="474.24" width="24.770" height="41.94" fill="#E6EFF4"/><rect x="916.38" y="474.24" width="24.770" height="41.94" fill="#E4EEF4"/><rect x="941.15" y="474.24" width="24.770" height="41.94" fill="#BCD9E9"/><rect x="965.92" y="474.24" width="24.770" height="41.94" fill="#DAEAF2"/><rect x="1001.31" y="474.24" width="24.770" height="41.94" fill="#D9E9F1"/><rect x="1026.08" y="474.24" width="24.770" height="41.94" fill="#7CB5D6"/><rect x="1050.85" y="474.24" width="24.770" height="41.94" fill="#A7CDE3"/><rect x="1075.62" y="474.24" width="24.770" height="41.94" fill="#D3E6F0"/><rect x="1100.39" y="474.24" width="24.770" height="41.94" fill="#82B8D7"/><rect x="1125.16" y="474.24" width="24.770" height="41.94" fill="#82B8D7"/><rect x="1149.93" y="474.24" width="24.770" height="41.94" fill="#7CB5D6"/><rect x="1185.32" y="474.24" width="24.770" height="41.94" fill="#DCEAF2"/><rect x="1210.09" y="474.24" width="24.770" height="41.94" fill="#E4EEF4"/><rect x="1234.86" y="474.24" width="24.770" height="41.94" fill="#E6EFF4"/><rect x="1259.63" y="474.24" width="24.770" height="41.94" fill="#F5F6F7"/><rect x="1284.40" y="474.24" width="24.770" height="41.94" fill="#E8F0F4"/><rect x="1309.17" y="474.24" width="24.770" height="41.94" fill="#EEF2F5"/><rect x="1333.94" y="474.24" width="24.770" height="41.94" fill="#E4EEF4"/><rect x="1358.71" y="474.24" width="24.770" height="41.94" fill="#F5F6F7"/>
<rect x="130.80" y="516.17" width="24.770" height="41.94" fill="#FCDECC"/><rect x="166.19" y="516.17" width="24.770" height="41.94" fill="#7CB5D6"/><rect x="190.96" y="516.17" width="24.770" height="41.94" fill="#D5E7F1"/><rect x="215.73" y="516.17" width="24.770" height="41.94" fill="#C6DFED"/><rect x="240.50" y="516.17" width="24.770" height="41.94" fill="#67A9CF"/><rect x="265.27" y="516.17" width="24.770" height="41.94" fill="#FCDECC"/><rect x="290.04" y="516.17" width="24.770" height="41.94" fill="#ECF2F5"/><rect x="325.43" y="516.17" width="24.770" height="41.94" fill="#CCE2EE"/><rect x="350.20" y="516.17" width="24.770" height="41.94" fill="#FDDCC9"/><rect x="374.97" y="516.17" width="24.770" height="41.94" fill="#C6DFED"/><rect x="399.74" y="516.17" width="24.770" height="41.94" fill="#F1F4F6"/><rect x="424.51" y="516.17" width="24.770" height="41.94" fill="#F1F4F6"/><rect x="449.28" y="516.17" width="24.770" height="41.94" fill="#DAEAF2"/><rect x="474.05" y="516.17" width="24.770" height="41.94" fill="#D9E9F1"/><rect x="498.82" y="516.17" width="24.770" height="41.94" fill="#F1F4F6"/><rect x="523.59" y="516.17" width="24.770" height="41.94" fill="#DAEAF2"/><rect x="548.36" y="516.17" width="24.770" height="41.94" fill="#DEEBF2"/><rect x="583.75" y="516.17" width="24.770" height="41.94" fill="#77B2D4"/><rect x="608.52" y="516.17" width="24.770" height="41.94" fill="#77B2D4"/><rect x="633.29" y="516.17" width="24.770" height="41.94" fill="#8CBEDB"/><rect x="658.06" y="516.17" width="24.770" height="41.94" fill="#8CBEDB"/><rect x="682.83" y="516.17" width="24.770" height="41.94" fill="#91C1DC"/><rect x="707.60" y="516.17" width="24.770" height="41.94" fill="#D3E6F0"/><rect x="732.37" y="516.17" width="24.770" height="41.94" fill="#D5E7F1"/><rect x="757.14" y="516.17" width="24.770" height="41.94" fill="#ACD0E4"/><rect x="781.91" y="516.17" width="24.770" height="41.94" fill="#E4EEF4"/><rect x="806.68" y="516.17" width="24.770" height="41.94" fill="#E4EEF4"/><rect x="831.45" y="516.17" width="24.770" height="41.94" fill="#EAF1F5"/><rect x="866.84" y="516.17" width="24.770" height="41.94" fill="#FCE2D3"/><rect x="891.61" y="516.17" width="24.770" height="41.94" fill="#F9EDE6"/><rect x="916.38" y="516.17" width="24.770" height="41.94" fill="#F9EFE9"/><rect x="941.15" y="516.17" width="24.770" height="41.94" fill="#B1D3E6"/><rect x="965.92" y="516.17" width="24.770" height="41.94" fill="#F3F5F6"/><rect x="1001.31" y="516.17" width="24.770" height="41.94" fill="#F3F5F6"/><rect x="1026.08" y="516.17" width="24.770" height="41.94" fill="#FCDECC"/><rect x="1050.85" y="516.17" width="24.770" height="41.94" fill="#FCE1D1"/><rect x="1075.62" y="516.17" width="24.770" height="41.94" fill="#FDDBC7"/><rect x="1100.39" y="516.17" width="24.770" height="41.94" fill="#F7BB9F"/><rect x="1125.16" y="516.17" width="24.770" height="41.94" fill="#F7B79A"/><rect x="1149.93" y="516.17" width="24.770" height="41.94" fill="#F6B294"/><rect x="1185.32" y="516.17" width="24.770" height="41.94" fill="#F8F1ED"/><rect x="1210.09" y="516.17" width="24.770" height="41.94" fill="#ECF2F5"/><rect x="1234.86" y="516.17" width="24.770" height="41.94" fill="#E6EFF4"/><rect x="1259.63" y="516.17" width="24.770" height="41.94" fill="#FAE9DF"/><rect x="1284.40" y="516.17" width="24.770" height="41.94" fill="#F8F3F0"/><rect x="1309.17" y="516.17" width="24.770" height="41.94" fill="#F7F6F5"/><rect x="1333.94" y="516.17" width="24.770" height="41.94" fill="#FAE8DD"/><rect x="1358.71" y="516.17" width="24.770" height="41.94" fill="#FCE2D3"/>
<rect x="130.80" y="558.11" width="24.770" height="41.94" fill="#F6B294"/><rect x="166.19" y="558.11" width="24.770" height="41.94" fill="#EC845F"/><rect x="190.96" y="558.11" width="24.770" height="41.94" fill="#E37357"/><rect x="215.73" y="558.11" width="24.770" height="41.94" fill="#EC845F"/><rect x="240.50" y="558.11" width="24.770" height="41.94" fill="#E06E54"/><rect x="265.27" y="558.11" width="24.770" height="41.94" fill="#EF8A62"/><rect x="290.04" y="558.11" width="24.770" height="41.94" fill="#F19671"/><rect x="325.43" y="558.11" width="24.770" height="41.94" fill="#DAEAF2"/><rect x="350.20" y="558.11" width="24.770" height="41.94" fill="#82B8D7"/><rect x="374.97" y="558.11" width="24.770" height="41.94" fill="#F9ECE4"/><rect x="399.74" y="558.11" width="24.770" height="41.94" fill="#E4EEF4"/><rect x="424.51" y="558.11" width="24.770" height="41.94" fill="#E4EEF4"/><rect x="449.28" y="558.11" width="24.770" height="41.94" fill="#DEEBF2"/><rect x="474.05" y="558.11" width="24.770" height="41.94" fill="#DCEAF2"/><rect x="498.82" y="558.11" width="24.770" height="41.94" fill="#E4EEF4"/><rect x="523.59" y="558.11" width="24.770" height="41.94" fill="#EEF2F5"/><rect x="548.36" y="558.11" width="24.770" height="41.94" fill="#DAEAF2"/><rect x="583.75" y="558.11" width="24.770" height="41.94" fill="#D7E8F1"/><rect x="608.52" y="558.11" width="24.770" height="41.94" fill="#E4EEF4"/><rect x="633.29" y="558.11" width="24.770" height="41.94" fill="#ACD0E4"/><rect x="658.06" y="558.11" width="24.770" height="41.94" fill="#B1D3E6"/><rect x="682.83" y="558.11" width="24.770" height="41.94" fill="#B6D6E8"/><rect x="707.60" y="558.11" width="24.770" height="41.94" fill="#6CACD1"/><rect x="732.37" y="558.11" width="24.770" height="41.94" fill="#87BBD9"/><rect x="757.14" y="558.11" width="24.770" height="41.94" fill="#B1D3E6"/><rect x="781.91" y="558.11" width="24.770" height="41.94" fill="#4E92C3"/><rect x="806.68" y="558.11" width="24.770" height="41.94" fill="#72AFD2"/><rect x="831.45" y="558.11" width="24.770" height="41.94" fill="#6CACD1"/><rect x="866.84" y="558.11" width="24.770" height="41.94" fill="#D9E9F1"/><rect x="891.61" y="558.11" width="24.770" height="41.94" fill="#E2EDF3"/><rect x="916.38" y="558.11" width="24.770" height="41.94" fill="#DCEAF2"/><rect x="941.15" y="558.11" width="24.770" height="41.94" fill="#97C4DE"/><rect x="965.92" y="558.11" width="24.770" height="41.94" fill="#D9E9F1"/><rect x="1001.31" y="558.11" width="24.770" height="41.94" fill="#EFF3F6"/><rect x="1026.08" y="558.11" width="24.770" height="41.94" fill="#82B8D7"/><rect x="1050.85" y="558.11" width="24.770" height="41.94" fill="#A7CDE3"/><rect x="1075.62" y="558.11" width="24.770" height="41.94" fill="#B1D3E6"/><rect x="1100.39" y="558.11" width="24.770" height="41.94" fill="#82B8D7"/><rect x="1125.16" y="558.11" width="24.770" height="41.94" fill="#82B8D7"/><rect x="1149.93" y="558.11" width="24.770" height="41.94" fill="#7CB5D6"/><rect x="1185.32" y="558.11" width="24.770" height="41.94" fill="#FBE5D8"/><rect x="1210.09" y="558.11" width="24.770" height="41.94" fill="#FBE6DA"/><rect x="1234.86" y="558.11" width="24.770" height="41.94" fill="#A7CDE3"/><rect x="1259.63" y="558.11" width="24.770" height="41.94" fill="#F8F4F2"/><rect x="1284.40" y="558.11" width="24.770" height="41.94" fill="#F8F4F2"/><rect x="1309.17" y="558.11" width="24.770" height="41.94" fill="#F7F6F5"/><rect x="1333.94" y="558.11" width="24.770" height="41.94" fill="#FAEAE1"/><rect x="1358.71" y="558.11" width="24.770" height="41.94" fill="#FAEAE1"/>
<rect x="130.80" y="600.05" width="24.770" height="41.94" fill="#EC845F"/><rect x="166.19" y="600.05" width="24.770" height="41.94" fill="#E4EEF4"/><rect x="190.96" y="600.05" width="24.770" height="41.94" fill="#F9ECE4"/><rect x="215.73" y="600.05" width="24.770" height="41.94" fill="#FAEAE1"/><rect x="240.50" y="600.05" width="24.770" height="41.94" fill="#F3F5F6"/><rect x="265.27" y="600.05" width="24.770" height="41.94" fill="#F5F6F7"/><rect x="290.04" y="600.05" width="24.770" height="41.94" fill="#DAEAF2"/><rect x="325.43" y="600.05" width="24.770" height="41.94" fill="#F7BB9F"/><rect x="350.20" y="600.05" width="24.770" height="41.94" fill="#F8F1ED"/><rect x="374.97" y="600.05" width="24.770" height="41.94" fill="#F8F1ED"/><rect x="399.74" y="600.05" width="24.770" height="41.94" fill="#DAEAF2"/><rect x="424.51" y="600.05" width="24.770" height="41.94" fill="#B6D6E8"/><rect x="449.28" y="600.05" width="24.770" height="41.94" fill="#6CACD1"/><rect x="474.05" y="600.05" width="24.770" height="41.94" fill="#6CACD1"/><rect x="498.82" y="600.05" width="24.770" height="41.94" fill="#F9EFE9"/><rect x="523.59" y="600.05" width="24.770" height="41.94" fill="#E0ECF3"/><rect x="548.36" y="600.05" width="24.770" height="41.94" fill="#D1E5F0"/><rect x="583.75" y="600.05" width="24.770" height="41.94" fill="#9CC7E0"/><rect x="608.52" y="600.05" width="24.770" height="41.94" fill="#5698C6"/><rect x="633.29" y="600.05" width="24.770" height="41.94" fill="#6CACD1"/><rect x="658.06" y="600.05" width="24.770" height="41.94" fill="#64A6CD"/><rect x="682.83" y="600.05" width="24.770" height="41.94" fill="#60A2CC"/><rect x="707.60" y="600.05" width="24.770" height="41.94" fill="#6CACD1"/><rect x="732.37" y="600.05" width="24.770" height="41.94" fill="#67A9CF"/><rect x="757.14" y="600.05" width="24.770" height="41.94" fill="#599CC8"/><rect x="781.91" y="600.05" width="24.770" height="41.94" fill="#8CBEDB"/><rect x="806.68" y="600.05" width="24.770" height="41.94" fill="#91C1DC"/><rect x="831.45" y="600.05" width="24.770" height="41.94" fill="#B1D3E6"/><rect x="866.84" y="600.05" width="24.770" height="41.94" fill="#3277B5"/><rect x="891.61" y="600.05" width="24.770" height="41.94" fill="#286DB0"/><rect x="916.38" y="600.05" width="24.770" height="41.94" fill="#2B70B1"/><rect x="941.15" y="600.05" width="24.770" height="41.94" fill="#9CC7E0"/><rect x="965.92" y="600.05" width="24.770" height="41.94" fill="#F8F1ED"/><rect x="1001.31" y="600.05" width="24.770" height="41.94" fill="#F9C3A9"/><rect x="1026.08" y="600.05" width="24.770" height="41.94" fill="#F6B294"/><rect x="1050.85" y="600.05" width="24.770" height="41.94" fill="#F8F4F2"/><rect x="1075.62" y="600.05" width="24.770" height="41.94" fill="#FAEAE1"/><rect x="1100.39" y="600.05" width="24.770" height="41.94" fill="#F9EFE9"/><rect x="1125.16" y="600.05" width="24.770" height="41.94" fill="#FAE9DF"/><rect x="1149.93" y="600.05" width="24.770" height="41.94" fill="#FAE9DF"/><rect x="1185.32" y="600.05" width="24.770" height="41.94" fill="#2469AE"/><rect x="1210.09" y="600.05" width="24.770" height="41.94" fill="#C6DFED"/><rect x="1234.86" y="600.05" width="24.770" height="41.94" fill="#8CBEDB"/><rect x="1259.63" y="600.05" width="24.770" height="41.94" fill="#F7B79A"/><rect x="1284.40" y="600.05" width="24.770" height="41.94" fill="#E4EEF4"/><rect x="1309.17" y="600.05" width="24.770" height="41.94" fill="#EEF2F5"/><rect x="1333.94" y="600.05" width="24.770" height="41.94" fill="#FBE5D8"/><rect x="1358.71" y="600.05" width="24.770" height="41.94" fill="#F9EFE9"/>
<rect x="130.80" y="641.98" width="24.770" height="41.94" fill="#F3F5F6"/><rect x="166.19" y="641.98" width="24.770" height="41.94" fill="#C13439"/><rect x="190.96" y="641.98" width="24.770" height="41.94" fill="#F08E67"/><rect x="215.73" y="641.98" width="24.770" height="41.94" fill="#F29E7B"/><rect x="240.50" y="641.98" width="24.770" height="41.94" fill="#E6795A"/><rect x="265.27" y="641.98" width="24.770" height="41.94" fill="#D75C4C"/><rect x="290.04" y="641.98" width="24.770" height="41.94" fill="#E37357"/><rect x="325.43" y="641.98" width="24.770" height="41.94" fill="#FCDFCE"/><rect x="350.20" y="641.98" width="24.770" height="41.94" fill="#FDDBC7"/><rect x="374.97" y="641.98" width="24.770" height="41.94" fill="#F1F4F6"/><rect x="399.74" y="641.98" width="24.770" height="41.94" fill="#ECF2F5"/><rect x="424.51" y="641.98" width="24.770" height="41.94" fill="#FAE9DF"/><rect x="449.28" y="641.98" width="24.770" height="41.94" fill="#DAEAF2"/><rect x="474.05" y="641.98" width="24.770" height="41.94" fill="#EEF2F5"/><rect x="498.82" y="641.98" width="24.770" height="41.94" fill="#EEF2F5"/><rect x="523.59" y="641.98" width="24.770" height="41.94" fill="#FCDECC"/><rect x="548.36" y="641.98" width="24.770" height="41.94" fill="#F8F0EB"/><rect x="583.75" y="641.98" width="24.770" height="41.94" fill="#F3A280"/><rect x="608.52" y="641.98" width="24.770" height="41.94" fill="#FAC7AE"/><rect x="633.29" y="641.98" width="24.770" height="41.94" fill="#F9C3A9"/><rect x="658.06" y="641.98" width="24.770" height="41.94" fill="#FAC7AE"/><rect x="682.83" y="641.98" width="24.770" height="41.94" fill="#FACBB3"/><rect x="707.60" y="641.98" width="24.770" height="41.94" fill="#FBE5D8"/><rect x="732.37" y="641.98" width="24.770" height="41.94" fill="#FDDCC9"/><rect x="757.14" y="641.98" width="24.770" height="41.94" fill="#FDDCC9"/><rect x="781.91" y="641.98" width="24.770" height="41.94" fill="#EAF1F5"/><rect x="806.68" y="641.98" width="24.770" height="41.94" fill="#FBE5D8"/><rect x="831.45" y="641.98" width="24.770" height="41.94" fill="#F9EDE6"/><rect x="866.84" y="641.98" width="24.770" height="41.94" fill="#FAE9DF"/><rect x="891.61" y="641.98" width="24.770" height="41.94" fill="#EF8A62"/><rect x="916.38" y="641.98" width="24.770" height="41.94" fill="#FBE3D5"/><rect x="941.15" y="641.98" width="24.770" height="41.94" fill="#A7CDE3"/><rect x="965.92" y="641.98" width="24.770" height="41.94" fill="#DAEAF2"/><rect x="1001.31" y="641.98" width="24.770" height="41.94" fill="#EEF2F5"/><rect x="1026.08" y="641.98" width="24.770" height="41.94" fill="#F8F1ED"/><rect x="1050.85" y="641.98" width="24.770" height="41.94" fill="#D9E9F1"/><rect x="1075.62" y="641.98" width="24.770" height="41.94" fill="#DEEBF2"/><rect x="1100.39" y="641.98" width="24.770" height="41.94" fill="#F7F6F5"/><rect x="1125.16" y="641.98" width="24.770" height="41.94" fill="#EEF2F5"/><rect x="1149.93" y="641.98" width="24.770" height="41.94" fill="#EFF3F6"/><rect x="1185.32" y="641.98" width="24.770" height="41.94" fill="#FAC7AE"/><rect x="1210.09" y="641.98" width="24.770" height="41.94" fill="#F08E67"/><rect x="1234.86" y="641.98" width="24.770" height="41.94" fill="#A7CDE3"/><rect x="1259.63" y="641.98" width="24.770" height="41.94" fill="#A7CDE3"/><rect x="1284.40" y="641.98" width="24.770" height="41.94" fill="#F7F6F5"/><rect x="1309.17" y="641.98" width="24.770" height="41.94" fill="#CCE2EE"/><rect x="1333.94" y="641.98" width="24.770" height="41.94" fill="#A1CAE1"/><rect x="1358.71" y="641.98" width="24.770" height="41.94" fill="#E4EEF4"/>
<rect x="130.80" y="683.92" width="24.770" height="41.94" fill="#FCE1D1"/><rect x="166.19" y="683.92" width="24.770" height="41.94" fill="#FDDCC9"/><rect x="190.96" y="683.92" width="24.770" height="41.94" fill="#D5E7F1"/><rect x="215.73" y="683.92" width="24.770" height="41.94" fill="#FCDFCE"/><rect x="240.50" y="683.92" width="24.770" height="41.94" fill="#FBE5D8"/><rect x="265.27" y="683.92" width="24.770" height="41.94" fill="#DAEAF2"/><rect x="290.04" y="683.92" width="24.770" height="41.94" fill="#ACD0E4"/><rect x="325.43" y="683.92" width="24.770" height="41.94" fill="#FCE2D3"/><rect x="350.20" y="683.92" width="24.770" height="41.94" fill="#F0926C"/><rect x="374.97" y="683.92" width="24.770" height="41.94" fill="#EEF2F5"/><rect x="399.74" y="683.92" width="24.770" height="41.94" fill="#E8F0F4"/><rect x="424.51" y="683.92" width="24.770" height="41.94" fill="#FDDBC7"/><rect x="449.28" y="683.92" width="24.770" height="41.94" fill="#D5E7F1"/><rect x="474.05" y="683.92" width="24.770" height="41.94" fill="#E4EEF4"/><rect x="498.82" y="683.92" width="24.770" height="41.94" fill="#F9EFE9"/><rect x="523.59" y="683.92" width="24.770" height="41.94" fill="#FDDCC9"/><rect x="548.36" y="683.92" width="24.770" height="41.94" fill="#F9EFE9"/><rect x="583.75" y="683.92" width="24.770" height="41.94" fill="#B6D6E8"/><rect x="608.52" y="683.92" width="24.770" height="41.94" fill="#8CBEDB"/><rect x="633.29" y="683.92" width="24.770" height="41.94" fill="#8CBEDB"/><rect x="658.06" y="683.92" width="24.770" height="41.94" fill="#91C1DC"/><rect x="682.83" y="683.92" width="24.770" height="41.94" fill="#8CBEDB"/><rect x="707.60" y="683.92" width="24.770" height="41.94" fill="#EAF1F5"/><rect x="732.37" y="683.92" width="24.770" height="41.94" fill="#D5E7F1"/><rect x="757.14" y="683.92" width="24.770" height="41.94" fill="#CCE2EE"/><rect x="781.91" y="683.92" width="24.770" height="41.94" fill="#F9EFE9"/><rect x="806.68" y="683.92" width="24.770" height="41.94" fill="#F3F5F6"/><rect x="831.45" y="683.92" width="24.770" height="41.94" fill="#FBE5D8"/><rect x="866.84" y="683.92" width="24.770" height="41.94" fill="#B1D3E6"/><rect x="891.61" y="683.92" width="24.770" height="41.94" fill="#E4EEF4"/><rect x="916.38" y="683.92" width="24.770" height="41.94" fill="#CCE2EE"/><rect x="941.15" y="683.92" width="24.770" height="41.94" fill="#D3E6F0"/><rect x="965.92" y="683.92" width="24.770" height="41.94" fill="#FCDFCE"/><rect x="1001.31" y="683.92" width="24.770" height="41.94" fill="#FCDFCE"/><rect x="1026.08" y="683.92" width="24.770" height="41.94" fill="#F9EFE9"/><rect x="1050.85" y="683.92" width="24.770" height="41.94" fill="#F5AE8F"/><rect x="1075.62" y="683.92" width="24.770" height="41.94" fill="#F29A76"/><rect x="1100.39" y="683.92" width="24.770" height="41.94" fill="#F0926C"/><rect x="1125.16" y="683.92" width="24.770" height="41.94" fill="#F5AE8F"/><rect x="1149.93" y="683.92" width="24.770" height="41.94" fill="#F5AA8A"/><rect x="1185.32" y="683.92" width="24.770" height="41.94" fill="#D5E7F1"/><rect x="1210.09" y="683.92" width="24.770" height="41.94" fill="#E4EEF4"/><rect x="1234.86" y="683.92" width="24.770" height="41.94" fill="#DAEAF2"/><rect x="1259.63" y="683.92" width="24.770" height="41.94" fill="#A7CDE3"/><rect x="1284.40" y="683.92" width="24.770" height="41.94" fill="#D1E5F0"/><rect x="1309.17" y="683.92" width="24.770" height="41.94" fill="#D3E6F0"/><rect x="1333.94" y="683.92" width="24.770" height="41.94" fill="#97C4DE"/><rect x="1358.71" y="683.92" width="24.770" height="41.94" fill="#DAEAF2"/>
<rect x="130.80" y="725.85" width="24.770" height="41.94" fill="#FDDCC9"/><rect x="166.19" y="725.85" width="24.770" height="41.94" fill="#E4EEF4"/><rect x="190.96" y="725.85" width="24.770" height="41.94" fill="#D9E9F1"/><rect x="215.73" y="725.85" width="24.770" height="41.94" fill="#F9EFE9"/><rect x="240.50" y="725.85" width="24.770" height="41.94" fill="#EAF1F5"/><rect x="265.27" y="725.85" width="24.770" height="41.94" fill="#B6D6E8"/><rect x="290.04" y="725.85" width="24.770" height="41.94" fill="#DAEAF2"/><rect x="325.43" y="725.85" width="24.770" height="41.94" fill="#3A7DB8"/><rect x="350.20" y="725.85" width="24.770" height="41.94" fill="#82B8D7"/><rect x="374.97" y="725.85" width="24.770" height="41.94" fill="#FBE6DA"/><rect x="399.74" y="725.85" width="24.770" height="41.94" fill="#F9ECE4"/><rect x="424.51" y="725.85" width="24.770" height="41.94" fill="#EFF3F6"/><rect x="449.28" y="725.85" width="24.770" height="41.94" fill="#F8F0EB"/><rect x="474.05" y="725.85" width="24.770" height="41.94" fill="#F8F0EB"/><rect x="498.82" y="725.85" width="24.770" height="41.94" fill="#F8F0EB"/><rect x="523.59" y="725.85" width="24.770" height="41.94" fill="#F3F5F6"/><rect x="548.36" y="725.85" width="24.770" height="41.94" fill="#F3F5F6"/><rect x="583.75" y="725.85" width="24.770" height="41.94" fill="#D3E6F0"/><rect x="608.52" y="725.85" width="24.770" height="41.94" fill="#BCD9E9"/><rect x="633.29" y="725.85" width="24.770" height="41.94" fill="#D7E8F1"/><rect x="658.06" y="725.85" width="24.770" height="41.94" fill="#D7E8F1"/><rect x="682.83" y="725.85" width="24.770" height="41.94" fill="#D3E6F0"/><rect x="707.60" y="725.85" width="24.770" height="41.94" fill="#3D81BA"/><rect x="732.37" y="725.85" width="24.770" height="41.94" fill="#A7CDE3"/><rect x="757.14" y="725.85" width="24.770" height="41.94" fill="#599CC8"/><rect x="781.91" y="725.85" width="24.770" height="41.94" fill="#3A7DB8"/><rect x="806.68" y="725.85" width="24.770" height="41.94" fill="#599CC8"/><rect x="831.45" y="725.85" width="24.770" height="41.94" fill="#4184BC"/><rect x="866.84" y="725.85" width="24.770" height="41.94" fill="#FCDFCE"/><rect x="891.61" y="725.85" width="24.770" height="41.94" fill="#FCE1D1"/><rect x="916.38" y="725.85" width="24.770" height="41.94" fill="#FAC7AE"/><rect x="941.15" y="725.85" width="24.770" height="41.94" fill="#FCDFCE"/><rect x="965.92" y="725.85" width="24.770" height="41.94" fill="#DAEAF2"/><rect x="1001.31" y="725.85" width="24.770" height="41.94" fill="#DAEAF2"/><rect x="1026.08" y="725.85" width="24.770" height="41.94" fill="#7CB5D6"/><rect x="1050.85" y="725.85" width="24.770" height="41.94" fill="#64A6CD"/><rect x="1075.62" y="725.85" width="24.770" height="41.94" fill="#77B2D4"/><rect x="1100.39" y="725.85" width="24.770" height="41.94" fill="#7CB5D6"/><rect x="1125.16" y="725.85" width="24.770" height="41.94" fill="#82B8D7"/><rect x="1149.93" y="725.85" width="24.770" height="41.94" fill="#82B8D7"/><rect x="1185.32" y="725.85" width="24.770" height="41.94" fill="#FAC7AE"/><rect x="1210.09" y="725.85" width="24.770" height="41.94" fill="#F3F5F6"/><rect x="1234.86" y="725.85" width="24.770" height="41.94" fill="#F9ECE4"/><rect x="1259.63" y="725.85" width="24.770" height="41.94" fill="#F8F0EB"/><rect x="1284.40" y="725.85" width="24.770" height="41.94" fill="#F8F1ED"/><rect x="1309.17" y="725.85" width="24.770" height="41.94" fill="#F8F1ED"/><rect x="1333.94" y="725.85" width="24.770" height="41.94" fill="#F9EDE6"/><rect x="1358.71" y="725.85" width="24.770" height="41.94" fill="#FCE1D1"/>
<rect x="130.80" y="767.79" width="24.770" height="41.94" fill="#F9EFE9"/><rect x="166.19" y="767.79" width="24.770" height="41.94" fill="#FAC7AE"/><rect x="190.96" y="767.79" width="24.770" height="41.94" fill="#F4A685"/><rect x="215.73" y="767.79" width="24.770" height="41.94" fill="#F5AE8F"/><rect x="240.50" y="767.79" width="24.770" height="41.94" fill="#F5AA8A"/><rect x="265.27" y="767.79" width="24.770" height="41.94" fill="#D9E9F1"/><rect x="290.04" y="767.79" width="24.770" height="41.94" fill="#F8BFA4"/><rect x="325.43" y="767.79" width="24.770" height="41.94" fill="#F3F5F6"/><rect x="350.20" y="767.79" width="24.770" height="41.94" fill="#B1D3E6"/><rect x="374.97" y="767.79" width="24.770" height="41.94" fill="#DA624F"/><rect x="399.74" y="767.79" width="24.770" height="41.94" fill="#F9ECE4"/><rect x="424.51" y="767.79" width="24.770" height="41.94" fill="#D3E6F0"/><rect x="449.28" y="767.79" width="24.770" height="41.94" fill="#F5AE8F"/><rect x="474.05" y="767.79" width="24.770" height="41.94" fill="#FBCFB8"/><rect x="498.82" y="767.79" width="24.770" height="41.94" fill="#F8F0EB"/><rect x="523.59" y="767.79" width="24.770" height="41.94" fill="#FCDECC"/><rect x="548.36" y="767.79" width="24.770" height="41.94" fill="#FAE9DF"/><rect x="583.75" y="767.79" width="24.770" height="41.94" fill="#FCE2D3"/><rect x="608.52" y="767.79" width="24.770" height="41.94" fill="#EEF2F5"/><rect x="633.29" y="767.79" width="24.770" height="41.94" fill="#EFF3F6"/><rect x="658.06" y="767.79" width="24.770" height="41.94" fill="#EFF3F6"/><rect x="682.83" y="767.79" width="24.770" height="41.94" fill="#EFF3F6"/><rect x="707.60" y="767.79" width="24.770" height="41.94" fill="#F9EFE9"/><rect x="732.37" y="767.79" width="24.770" height="41.94" fill="#DCEAF2"/><rect x="757.14" y="767.79" width="24.770" height="41.94" fill="#E2EDF3"/><rect x="781.91" y="767.79" width="24.770" height="41.94" fill="#FAE8DD"/><rect x="806.68" y="767.79" width="24.770" height="41.94" fill="#D1E5F0"/><rect x="831.45" y="767.79" width="24.770" height="41.94" fill="#C6DFED"/><rect x="866.84" y="767.79" width="24.770" height="41.94" fill="#FCD7C2"/><rect x="891.61" y="767.79" width="24.770" height="41.94" fill="#FBE5D8"/><rect x="916.38" y="767.79" width="24.770" height="41.94" fill="#F5F6F7"/><rect x="941.15" y="767.79" width="24.770" height="41.94" fill="#E4EEF4"/><rect x="965.92" y="767.79" width="24.770" height="41.94" fill="#F3F5F6"/><rect x="1001.31" y="767.79" width="24.770" height="41.94" fill="#F29E7B"/><rect x="1026.08" y="767.79" width="24.770" height="41.94" fill="#D9E9F1"/><rect x="1050.85" y="767.79" width="24.770" height="41.94" fill="#B6D6E8"/><rect x="1075.62" y="767.79" width="24.770" height="41.94" fill="#CCE2EE"/><rect x="1100.39" y="767.79" width="24.770" height="41.94" fill="#ACD0E4"/><rect x="1125.16" y="767.79" width="24.770" height="41.94" fill="#B6D6E8"/><rect x="1149.93" y="767.79" width="24.770" height="41.94" fill="#BCD9E9"/><rect x="1185.32" y="767.79" width="24.770" height="41.94" fill="#EF8A62"/><rect x="1210.09" y="767.79" width="24.770" height="41.94" fill="#F9C3A9"/><rect x="1234.86" y="767.79" width="24.770" height="41.94" fill="#FCDECC"/><rect x="1259.63" y="767.79" width="24.770" height="41.94" fill="#F8F1ED"/><rect x="1284.40" y="767.79" width="24.770" height="41.94" fill="#F7B79A"/><rect x="1309.17" y="767.79" width="24.770" height="41.94" fill="#FCE1D1"/><rect x="1333.94" y="767.79" width="24.770" height="41.94" fill="#F9C3A9"/><rect x="1358.71" y="767.79" width="24.770" height="41.94" fill="#F7BB9F"/>
<rect x="130.80" y="809.73" width="24.770" height="41.94" fill="#FCE2D3"/><rect x="166.19" y="809.73" width="24.770" height="41.94" fill="#FAC7AE"/><rect x="190.96" y="809.73" width="24.770" height="41.94" fill="#F4A685"/><rect x="215.73" y="809.73" width="24.770" height="41.94" fill="#F5AE8F"/><rect x="240.50" y="809.73" width="24.770" height="41.94" fill="#F5AA8A"/><rect x="265.27" y="809.73" width="24.770" height="41.94" fill="#91C1DC"/><rect x="290.04" y="809.73" width="24.770" height="41.94" fill="#9CC7E0"/><rect x="325.43" y="809.73" width="24.770" height="41.94" fill="#DAEAF2"/><rect x="350.20" y="809.73" width="24.770" height="41.94" fill="#F3F5F6"/><rect x="374.97" y="809.73" width="24.770" height="41.94" fill="#F1F4F6"/><rect x="399.74" y="809.73" width="24.770" height="41.94" fill="#F8F1ED"/><rect x="424.51" y="809.73" width="24.770" height="41.94" fill="#E6EFF4"/><rect x="449.28" y="809.73" width="24.770" height="41.94" fill="#FCDECC"/><rect x="474.05" y="809.73" width="24.770" height="41.94" fill="#FDDCC9"/><rect x="498.82" y="809.73" width="24.770" height="41.94" fill="#ECF2F5"/><rect x="523.59" y="809.73" width="24.770" height="41.94" fill="#FDDCC9"/><rect x="548.36" y="809.73" width="24.770" height="41.94" fill="#FCD7C2"/><rect x="583.75" y="809.73" width="24.770" height="41.94" fill="#9CC7E0"/><rect x="608.52" y="809.73" width="24.770" height="41.94" fill="#D9E9F1"/><rect x="633.29" y="809.73" width="24.770" height="41.94" fill="#91C1DC"/><rect x="658.06" y="809.73" width="24.770" height="41.94" fill="#9CC7E0"/><rect x="682.83" y="809.73" width="24.770" height="41.94" fill="#97C4DE"/><rect x="707.60" y="809.73" width="24.770" height="41.94" fill="#EEF2F5"/><rect x="732.37" y="809.73" width="24.770" height="41.94" fill="#D7E8F1"/><rect x="757.14" y="809.73" width="24.770" height="41.94" fill="#EEF2F5"/><rect x="781.91" y="809.73" width="24.770" height="41.94" fill="#FAE9DF"/><rect x="806.68" y="809.73" width="24.770" height="41.94" fill="#F8F0EB"/><rect x="831.45" y="809.73" width="24.770" height="41.94" fill="#F9EFE9"/><rect x="866.84" y="809.73" width="24.770" height="41.94" fill="#FDDCC9"/><rect x="891.61" y="809.73" width="24.770" height="41.94" fill="#F7F6F5"/><rect x="916.38" y="809.73" width="24.770" height="41.94" fill="#F5F6F7"/><rect x="941.15" y="809.73" width="24.770" height="41.94" fill="#F7F7F7"/><rect x="965.92" y="809.73" width="24.770" height="41.94" fill="#FAC7AE"/><rect x="1001.31" y="809.73" width="24.770" height="41.94" fill="#EFF3F6"/><rect x="1026.08" y="809.73" width="24.770" height="41.94" fill="#FBE5D8"/><rect x="1050.85" y="809.73" width="24.770" height="41.94" fill="#FCDECC"/><rect x="1075.62" y="809.73" width="24.770" height="41.94" fill="#F9EFE9"/><rect x="1100.39" y="809.73" width="24.770" height="41.94" fill="#F8F4F2"/><rect x="1125.16" y="809.73" width="24.770" height="41.94" fill="#F8F0EB"/><rect x="1149.93" y="809.73" width="24.770" height="41.94" fill="#F8F1ED"/><rect x="1185.32" y="809.73" width="24.770" height="41.94" fill="#FDDBC7"/><rect x="1210.09" y="809.73" width="24.770" height="41.94" fill="#F3F5F6"/><rect x="1234.86" y="809.73" width="24.770" height="41.94" fill="#F5AE8F"/><rect x="1259.63" y="809.73" width="24.770" height="41.94" fill="#FCDFCE"/><rect x="1284.40" y="809.73" width="24.770" height="41.94" fill="#FCE1D1"/><rect x="1309.17" y="809.73" width="24.770" height="41.94" fill="#FCD3BD"/><rect x="1333.94" y="809.73" width="24.770" height="41.94" fill="#F08E67"/><rect x="1358.71" y="809.73" width="24.770" height="41.94" fill="#F5AA8A"/>
<rect x="130.80" y="851.66" width="24.770" height="41.94" fill="#C6DFED"/><rect x="166.19" y="851.66" width="24.770" height="41.94" fill="#91C1DC"/><rect x="190.96" y="851.66" width="24.770" height="41.94" fill="#F3F5F6"/><rect x="215.73" y="851.66" width="24.770" height="41.94" fill="#E6EFF4"/><rect x="240.50" y="851.66" width="24.770" height="41.94" fill="#DEEBF2"/><rect x="265.27" y="851.66" width="24.770" height="41.94" fill="#D3E6F0"/><rect x="290.04" y="851.66" width="24.770" height="41.94" fill="#F3F5F6"/><rect x="325.43" y="851.66" width="24.770" height="41.94" fill="#D9E9F1"/><rect x="350.20" y="851.66" width="24.770" height="41.94" fill="#D9E9F1"/><rect x="374.97" y="851.66" width="24.770" height="41.94" fill="#DCEAF2"/><rect x="399.74" y="851.66" width="24.770" height="41.94" fill="#DAEAF2"/><rect x="424.51" y="851.66" width="24.770" height="41.94" fill="#B6D6E8"/><rect x="449.28" y="851.66" width="24.770" height="41.94" fill="#EEF2F5"/><rect x="474.05" y="851.66" width="24.770" height="41.94" fill="#E4EEF4"/><rect x="498.82" y="851.66" width="24.770" height="41.94" fill="#7CB5D6"/><rect x="523.59" y="851.66" width="24.770" height="41.94" fill="#87BBD9"/><rect x="548.36" y="851.66" width="24.770" height="41.94" fill="#64A6CD"/><rect x="583.75" y="851.66" width="24.770" height="41.94" fill="#FBE3D5"/><rect x="608.52" y="851.66" width="24.770" height="41.94" fill="#F9EDE6"/><rect x="633.29" y="851.66" width="24.770" height="41.94" fill="#EEF2F5"/><rect x="658.06" y="851.66" width="24.770" height="41.94" fill="#EEF2F5"/><rect x="682.83" y="851.66" width="24.770" height="41.94" fill="#EFF3F6"/><rect x="707.60" y="851.66" width="24.770" height="41.94" fill="#EFF3F6"/><rect x="732.37" y="851.66" width="24.770" height="41.94" fill="#EEF2F5"/><rect x="757.14" y="851.66" width="24.770" height="41.94" fill="#F9EFE9"/><rect x="781.91" y="851.66" width="24.770" height="41.94" fill="#F1F4F6"/><rect x="806.68" y="851.66" width="24.770" height="41.94" fill="#EAF1F5"/><rect x="831.45" y="851.66" width="24.770" height="41.94" fill="#F7F7F7"/><rect x="866.84" y="851.66" width="24.770" height="41.94" fill="#DCEAF2"/><rect x="891.61" y="851.66" width="24.770" height="41.94" fill="#EAF1F5"/><rect x="916.38" y="851.66" width="24.770" height="41.94" fill="#F5F6F7"/><rect x="941.15" y="851.66" width="24.770" height="41.94" fill="#E2EDF3"/><rect x="965.92" y="851.66" width="24.770" height="41.94" fill="#64A6CD"/><rect x="1001.31" y="851.66" width="24.770" height="41.94" fill="#DAEAF2"/><rect x="1026.08" y="851.66" width="24.770" height="41.94" fill="#E4EEF4"/><rect x="1050.85" y="851.66" width="24.770" height="41.94" fill="#FCD3BD"/><rect x="1075.62" y="851.66" width="24.770" height="41.94" fill="#DEEBF2"/><rect x="1100.39" y="851.66" width="24.770" height="41.94" fill="#E6EFF4"/><rect x="1125.16" y="851.66" width="24.770" height="41.94" fill="#E6EFF4"/><rect x="1149.93" y="851.66" width="24.770" height="41.94" fill="#ECF2F5"/><rect x="1185.32" y="851.66" width="24.770" height="41.94" fill="#FCDECC"/><rect x="1210.09" y="851.66" width="24.770" height="41.94" fill="#FDDCC9"/><rect x="1234.86" y="851.66" width="24.770" height="41.94" fill="#ACD0E4"/><rect x="1259.63" y="851.66" width="24.770" height="41.94" fill="#FBE3D5"/><rect x="1284.40" y="851.66" width="24.770" height="41.94" fill="#B6D6E8"/><rect x="1309.17" y="851.66" width="24.770" height="41.94" fill="#DCEAF2"/><rect x="1333.94" y="851.66" width="24.770" height="41.94" fill="#97C4DE"/><rect x="1358.71" y="851.66" width="24.770" height="41.94" fill="#F5F6F7"/>
<rect x="130.80" y="893.60" width="24.770" height="41.94" fill="#F1F4F6"/><rect x="166.19" y="893.60" width="24.770" height="41.94" fill="#9CC7E0"/><rect x="190.96" y="893.60" width="24.770" height="41.94" fill="#D7E8F1"/><rect x="215.73" y="893.60" width="24.770" height="41.94" fill="#D9E9F1"/><rect x="240.50" y="893.60" width="24.770" height="41.94" fill="#DAEAF2"/><rect x="265.27" y="893.60" width="24.770" height="41.94" fill="#6CACD1"/><rect x="290.04" y="893.60" width="24.770" height="41.94" fill="#F1F4F6"/><rect x="325.43" y="893.60" width="24.770" height="41.94" fill="#E4EEF4"/><rect x="350.20" y="893.60" width="24.770" height="41.94" fill="#FCE1D1"/><rect x="374.97" y="893.60" width="24.770" height="41.94" fill="#EAF1F5"/><rect x="399.74" y="893.60" width="24.770" height="41.94" fill="#F8F0EB"/><rect x="424.51" y="893.60" width="24.770" height="41.94" fill="#DEEBF2"/><rect x="449.28" y="893.60" width="24.770" height="41.94" fill="#E6EFF4"/><rect x="474.05" y="893.60" width="24.770" height="41.94" fill="#E0ECF3"/><rect x="498.82" y="893.60" width="24.770" height="41.94" fill="#60A2CC"/><rect x="523.59" y="893.60" width="24.770" height="41.94" fill="#9CC7E0"/><rect x="548.36" y="893.60" width="24.770" height="41.94" fill="#A1CAE1"/><rect x="583.75" y="893.60" width="24.770" height="41.94" fill="#97C4DE"/><rect x="608.52" y="893.60" width="24.770" height="41.94" fill="#D7E8F1"/><rect x="633.29" y="893.60" width="24.770" height="41.94" fill="#ECF2F5"/><rect x="658.06" y="893.60" width="24.770" height="41.94" fill="#ECF2F5"/><rect x="682.83" y="893.60" width="24.770" height="41.94" fill="#E6EFF4"/><rect x="707.60" y="893.60" width="24.770" height="41.94" fill="#E0ECF3"/><rect x="732.37" y="893.60" width="24.770" height="41.94" fill="#ECF2F5"/><rect x="757.14" y="893.60" width="24.770" height="41.94" fill="#DAEAF2"/><rect x="781.91" y="893.60" width="24.770" height="41.94" fill="#F5F6F7"/><rect x="806.68" y="893.60" width="24.770" height="41.94" fill="#F5F6F7"/><rect x="831.45" y="893.60" width="24.770" height="41.94" fill="#F9EDE6"/><rect x="866.84" y="893.60" width="24.770" height="41.94" fill="#FAEAE1"/><rect x="891.61" y="893.60" width="24.770" height="41.94" fill="#FCE1D1"/><rect x="916.38" y="893.60" width="24.770" height="41.94" fill="#FBE6DA"/><rect x="941.15" y="893.60" width="24.770" height="41.94" fill="#E6EFF4"/><rect x="965.92" y="893.60" width="24.770" height="41.94" fill="#6CACD1"/><rect x="1001.31" y="893.60" width="24.770" height="41.94" fill="#FBE6DA"/><rect x="1026.08" y="893.60" width="24.770" height="41.94" fill="#FCE2D3"/><rect x="1050.85" y="893.60" width="24.770" height="41.94" fill="#FCDFCE"/><rect x="1075.62" y="893.60" width="24.770" height="41.94" fill="#FCD7C2"/><rect x="1100.39" y="893.60" width="24.770" height="41.94" fill="#FCDECC"/><rect x="1125.16" y="893.60" width="24.770" height="41.94" fill="#FCE1D1"/><rect x="1149.93" y="893.60" width="24.770" height="41.94" fill="#FCE1D1"/><rect x="1185.32" y="893.60" width="24.770" height="41.94" fill="#F9C3A9"/><rect x="1210.09" y="893.60" width="24.770" height="41.94" fill="#F6B294"/><rect x="1234.86" y="893.60" width="24.770" height="41.94" fill="#DEEBF2"/><rect x="1259.63" y="893.60" width="24.770" height="41.94" fill="#FAE8DD"/><rect x="1284.40" y="893.60" width="24.770" height="41.94" fill="#D3E6F0"/><rect x="1309.17" y="893.60" width="24.770" height="41.94" fill="#E0ECF3"/><rect x="1333.94" y="893.60" width="24.770" height="41.94" fill="#9CC7E0"/><rect x="1358.71" y="893.60" width="24.770" height="41.94" fill="#F1F4F6"/>
<rect x="130.80" y="935.53" width="24.770" height="41.94" fill="#4E92C3"/><rect x="166.19" y="935.53" width="24.770" height="41.94" fill="#FBE5D8"/><rect x="190.96" y="935.53" width="24.770" height="41.94" fill="#FAC7AE"/><rect x="215.73" y="935.53" width="24.770" height="41.94" fill="#FDDCC9"/><rect x="240.50" y="935.53" width="24.770" height="41.94" fill="#FCE1D1"/><rect x="265.27" y="935.53" width="24.770" height="41.94" fill="#FCE1D1"/><rect x="290.04" y="935.53" width="24.770" height="41.94" fill="#F8BFA4"/><rect x="325.43" y="935.53" width="24.770" height="41.94" fill="#ECF2F5"/><rect x="350.20" y="935.53" width="24.770" height="41.94" fill="#D1E5F0"/><rect x="374.97" y="935.53" width="24.770" height="41.94" fill="#599CC8"/><rect x="399.74" y="935.53" width="24.770" height="41.94" fill="#91C1DC"/><rect x="424.51" y="935.53" width="24.770" height="41.94" fill="#599CC8"/><rect x="449.28" y="935.53" width="24.770" height="41.94" fill="#72AFD2"/><rect x="474.05" y="935.53" width="24.770" height="41.94" fill="#5C9FCA"/><rect x="498.82" y="935.53" width="24.770" height="41.94" fill="#D1E5F0"/><rect x="523.59" y="935.53" width="24.770" height="41.94" fill="#6CACD1"/><rect x="548.36" y="935.53" width="24.770" height="41.94" fill="#A1CAE1"/><rect x="583.75" y="935.53" width="24.770" height="41.94" fill="#F7B79A"/><rect x="608.52" y="935.53" width="24.770" height="41.94" fill="#F4A685"/><rect x="633.29" y="935.53" width="24.770" height="41.94" fill="#F8BFA4"/><rect x="658.06" y="935.53" width="24.770" height="41.94" fill="#F8BFA4"/><rect x="682.83" y="935.53" width="24.770" height="41.94" fill="#F6B294"/><rect x="707.60" y="935.53" width="24.770" height="41.94" fill="#FDDBC7"/><rect x="732.37" y="935.53" width="24.770" height="41.94" fill="#F7B79A"/><rect x="757.14" y="935.53" width="24.770" height="41.94" fill="#F7B79A"/><rect x="781.91" y="935.53" width="24.770" height="41.94" fill="#FDDCC9"/><rect x="806.68" y="935.53" width="24.770" height="41.94" fill="#FCD7C2"/><rect x="831.45" y="935.53" width="24.770" height="41.94" fill="#FDDCC9"/><rect x="866.84" y="935.53" width="24.770" height="41.94" fill="#D3E6F0"/><rect x="891.61" y="935.53" width="24.770" height="41.94" fill="#D5E7F1"/><rect x="916.38" y="935.53" width="24.770" height="41.94" fill="#9CC7E0"/><rect x="941.15" y="935.53" width="24.770" height="41.94" fill="#EC845F"/><rect x="965.92" y="935.53" width="24.770" height="41.94" fill="#EF8A62"/><rect x="1001.31" y="935.53" width="24.770" height="41.94" fill="#FDDCC9"/><rect x="1026.08" y="935.53" width="24.770" height="41.94" fill="#FDDCC9"/><rect x="1050.85" y="935.53" width="24.770" height="41.94" fill="#FDDBC7"/><rect x="1075.62" y="935.53" width="24.770" height="41.94" fill="#F8F1ED"/><rect x="1100.39" y="935.53" width="24.770" height="41.94" fill="#F8F1ED"/><rect x="1125.16" y="935.53" width="24.770" height="41.94" fill="#FCDFCE"/><rect x="1149.93" y="935.53" width="24.770" height="41.94" fill="#FCDFCE"/><rect x="1185.32" y="935.53" width="24.770" height="41.94" fill="#B6D6E8"/><rect x="1210.09" y="935.53" width="24.770" height="41.94" fill="#FBCFB8"/><rect x="1234.86" y="935.53" width="24.770" height="41.94" fill="#F3A280"/><rect x="1259.63" y="935.53" width="24.770" height="41.94" fill="#EC845F"/><rect x="1284.40" y="935.53" width="24.770" height="41.94" fill="#F08E67"/><rect x="1309.17" y="935.53" width="24.770" height="41.94" fill="#F0926C"/><rect x="1333.94" y="935.53" width="24.770" height="41.94" fill="#E4EEF4"/><rect x="1358.71" y="935.53" width="24.770" height="41.94" fill="#D7E8F1"/>
<rect x="130.80" y="977.47" width="24.770" height="41.94" fill="#4E92C3"/><rect x="166.19" y="977.47" width="24.770" height="41.94" fill="#F8F1ED"/><rect x="190.96" y="977.47" width="24.770" height="41.94" fill="#FBE3D5"/><rect x="215.73" y="977.47" width="24.770" height="41.94" fill="#F9ECE4"/><rect x="240.50" y="977.47" width="24.770" height="41.94" fill="#F5F6F7"/><rect x="265.27" y="977.47" width="24.770" height="41.94" fill="#F8F4F2"/><rect x="290.04" y="977.47" width="24.770" height="41.94" fill="#B6D6E8"/><rect x="325.43" y="977.47" width="24.770" height="41.94" fill="#7CB5D6"/><rect x="350.20" y="977.47" width="24.770" height="41.94" fill="#E4EEF4"/><rect x="374.97" y="977.47" width="24.770" height="41.94" fill="#4B8EC1"/><rect x="399.74" y="977.47" width="24.770" height="41.94" fill="#91C1DC"/><rect x="424.51" y="977.47" width="24.770" height="41.94" fill="#60A2CC"/><rect x="449.28" y="977.47" width="24.770" height="41.94" fill="#77B2D4"/><rect x="474.05" y="977.47" width="24.770" height="41.94" fill="#77B2D4"/><rect x="498.82" y="977.47" width="24.770" height="41.94" fill="#A7CDE3"/><rect x="523.59" y="977.47" width="24.770" height="41.94" fill="#60A2CC"/><rect x="548.36" y="977.47" width="24.770" height="41.94" fill="#64A6CD"/><rect x="583.75" y="977.47" width="24.770" height="41.94" fill="#D3E6F0"/><rect x="608.52" y="977.47" width="24.770" height="41.94" fill="#FAC7AE"/><rect x="633.29" y="977.47" width="24.770" height="41.94" fill="#F29A76"/><rect x="658.06" y="977.47" width="24.770" height="41.94" fill="#F3A280"/><rect x="682.83" y="977.47" width="24.770" height="41.94" fill="#F3A280"/><rect x="707.60" y="977.47" width="24.770" height="41.94" fill="#F29A76"/><rect x="732.37" y="977.47" width="24.770" height="41.94" fill="#F29A76"/><rect x="757.14" y="977.47" width="24.770" height="41.94" fill="#F4A685"/><rect x="781.91" y="977.47" width="24.770" height="41.94" fill="#EF8A62"/><rect x="806.68" y="977.47" width="24.770" height="41.94" fill="#F29A76"/><rect x="831.45" y="977.47" width="24.770" height="41.94" fill="#F0926C"/><rect x="866.84" y="977.47" width="24.770" height="41.94" fill="#F4A685"/><rect x="891.61" y="977.47" width="24.770" height="41.94" fill="#DD6852"/><rect x="916.38" y="977.47" width="24.770" height="41.94" fill="#F4A685"/><rect x="941.15" y="977.47" width="24.770" height="41.94" fill="#D75C4C"/><rect x="965.92" y="977.47" width="24.770" height="41.94" fill="#DD6852"/><rect x="1001.31" y="977.47" width="24.770" height="41.94" fill="#B51E2E"/><rect x="1026.08" y="977.47" width="24.770" height="41.94" fill="#C43A3B"/><rect x="1050.85" y="977.47" width="24.770" height="41.94" fill="#EC845F"/><rect x="1075.62" y="977.47" width="24.770" height="41.94" fill="#DA624F"/><rect x="1100.39" y="977.47" width="24.770" height="41.94" fill="#DD6852"/><rect x="1125.16" y="977.47" width="24.770" height="41.94" fill="#C43A3B"/><rect x="1149.93" y="977.47" width="24.770" height="41.94" fill="#C43A3B"/><rect x="1185.32" y="977.47" width="24.770" height="41.94" fill="#F9EFE9"/><rect x="1210.09" y="977.47" width="24.770" height="41.94" fill="#F7B79A"/><rect x="1234.86" y="977.47" width="24.770" height="41.94" fill="#FBCFB8"/><rect x="1259.63" y="977.47" width="24.770" height="41.94" fill="#E37357"/><rect x="1284.40" y="977.47" width="24.770" height="41.94" fill="#EC845F"/><rect x="1309.17" y="977.47" width="24.770" height="41.94" fill="#EC845F"/><rect x="1333.94" y="977.47" width="24.770" height="41.94" fill="#FAE9DF"/><rect x="1358.71" y="977.47" width="24.770" height="41.94" fill="#D3E6F0"/>
<rect x="130.80" y="1019.41" width="24.770" height="41.94" fill="#DEEBF2"/><rect x="166.19" y="1019.41" width="24.770" height="41.94" fill="#D1E5F0"/><rect x="190.96" y="1019.41" width="24.770" height="41.94" fill="#8CBEDB"/><rect x="215.73" y="1019.41" width="24.770" height="41.94" fill="#6CACD1"/><rect x="240.50" y="1019.41" width="24.770" height="41.94" fill="#ACD0E4"/><rect x="265.27" y="1019.41" width="24.770" height="41.94" fill="#F8BFA4"/><rect x="290.04" y="1019.41" width="24.770" height="41.94" fill="#FAC7AE"/><rect x="325.43" y="1019.41" width="24.770" height="41.94" fill="#E06E54"/><rect x="350.20" y="1019.41" width="24.770" height="41.94" fill="#FCD3BD"/><rect x="374.97" y="1019.41" width="24.770" height="41.94" fill="#FAE9DF"/><rect x="399.74" y="1019.41" width="24.770" height="41.94" fill="#E97F5D"/><rect x="424.51" y="1019.41" width="24.770" height="41.94" fill="#EF8A62"/><rect x="449.28" y="1019.41" width="24.770" height="41.94" fill="#F19671"/><rect x="474.05" y="1019.41" width="24.770" height="41.94" fill="#F08E67"/><rect x="498.82" y="1019.41" width="24.770" height="41.94" fill="#F08E67"/><rect x="523.59" y="1019.41" width="24.770" height="41.94" fill="#EF8A62"/><rect x="548.36" y="1019.41" width="24.770" height="41.94" fill="#EC845F"/><rect x="583.75" y="1019.41" width="24.770" height="41.94" fill="#F5AE8F"/><rect x="608.52" y="1019.41" width="24.770" height="41.94" fill="#F5AA8A"/><rect x="633.29" y="1019.41" width="24.770" height="41.94" fill="#FBCFB8"/><rect x="658.06" y="1019.41" width="24.770" height="41.94" fill="#F5AE8F"/><rect x="682.83" y="1019.41" width="24.770" height="41.94" fill="#F5AA8A"/><rect x="707.60" y="1019.41" width="24.770" height="41.94" fill="#FCDFCE"/><rect x="732.37" y="1019.41" width="24.770" height="41.94" fill="#F7B79A"/><rect x="757.14" y="1019.41" width="24.770" height="41.94" fill="#F5AE8F"/><rect x="781.91" y="1019.41" width="24.770" height="41.94" fill="#E0ECF3"/><rect x="806.68" y="1019.41" width="24.770" height="41.94" fill="#FCDFCE"/><rect x="831.45" y="1019.41" width="24.770" height="41.94" fill="#F1F4F6"/><rect x="866.84" y="1019.41" width="24.770" height="41.94" fill="#FCE2D3"/><rect x="891.61" y="1019.41" width="24.770" height="41.94" fill="#FCDFCE"/><rect x="916.38" y="1019.41" width="24.770" height="41.94" fill="#E97F5D"/><rect x="941.15" y="1019.41" width="24.770" height="41.94" fill="#FAE9DF"/><rect x="965.92" y="1019.41" width="24.770" height="41.94" fill="#F5AE8F"/><rect x="1001.31" y="1019.41" width="24.770" height="41.94" fill="#DAEAF2"/><rect x="1026.08" y="1019.41" width="24.770" height="41.94" fill="#D7E8F1"/><rect x="1050.85" y="1019.41" width="24.770" height="41.94" fill="#BCD9E9"/><rect x="1075.62" y="1019.41" width="24.770" height="41.94" fill="#CCE2EE"/><rect x="1100.39" y="1019.41" width="24.770" height="41.94" fill="#D5E7F1"/><rect x="1125.16" y="1019.41" width="24.770" height="41.94" fill="#D3E6F0"/><rect x="1149.93" y="1019.41" width="24.770" height="41.94" fill="#D3E6F0"/><rect x="1185.32" y="1019.41" width="24.770" height="41.94" fill="#E4EEF4"/><rect x="1210.09" y="1019.41" width="24.770" height="41.94" fill="#64A6CD"/><rect x="1234.86" y="1019.41" width="24.770" height="41.94" fill="#D3E6F0"/><rect x="1259.63" y="1019.41" width="24.770" height="41.94" fill="#82B8D7"/><rect x="1284.40" y="1019.41" width="24.770" height="41.94" fill="#60A2CC"/><rect x="1309.17" y="1019.41" width="24.770" height="41.94" fill="#77B2D4"/><rect x="1333.94" y="1019.41" width="24.770" height="41.94" fill="#7CB5D6"/><rect x="1358.71" y="1019.41" width="24.770" height="41.94" fill="#A7CDE3"/>
<rect x="130.80" y="1061.34" width="24.770" height="41.94" fill="#ACD0E4"/><rect x="166.19" y="1061.34" width="24.770" height="41.94" fill="#D1E5F0"/><rect x="190.96" y="1061.34" width="24.770" height="41.94" fill="#8CBEDB"/><rect x="215.73" y="1061.34" width="24.770" height="41.94" fill="#6CACD1"/><rect x="240.50" y="1061.34" width="24.770" height="41.94" fill="#ACD0E4"/><rect x="265.27" y="1061.34" width="24.770" height="41.94" fill="#F8F1ED"/><rect x="290.04" y="1061.34" width="24.770" height="41.94" fill="#6CACD1"/><rect x="325.43" y="1061.34" width="24.770" height="41.94" fill="#CA4641"/><rect x="350.20" y="1061.34" width="24.770" height="41.94" fill="#DD6852"/><rect x="374.97" y="1061.34" width="24.770" height="41.94" fill="#F8F4F2"/><rect x="399.74" y="1061.34" width="24.770" height="41.94" fill="#EC845F"/><rect x="424.51" y="1061.34" width="24.770" height="41.94" fill="#EF8A62"/><rect x="449.28" y="1061.34" width="24.770" height="41.94" fill="#FAC7AE"/><rect x="474.05" y="1061.34" width="24.770" height="41.94" fill="#F7B79A"/><rect x="498.82" y="1061.34" width="24.770" height="41.94" fill="#EF8A62"/><rect x="523.59" y="1061.34" width="24.770" height="41.94" fill="#EF8A62"/><rect x="548.36" y="1061.34" width="24.770" height="41.94" fill="#EC845F"/><rect x="583.75" y="1061.34" width="24.770" height="41.94" fill="#F7BB9F"/><rect x="608.52" y="1061.34" width="24.770" height="41.94" fill="#FAE8DD"/><rect x="633.29" y="1061.34" width="24.770" height="41.94" fill="#FCD3BD"/><rect x="658.06" y="1061.34" width="24.770" height="41.94" fill="#FDDCC9"/><rect x="682.83" y="1061.34" width="24.770" height="41.94" fill="#FCDFCE"/><rect x="707.60" y="1061.34" width="24.770" height="41.94" fill="#FCD3BD"/><rect x="732.37" y="1061.34" width="24.770" height="41.94" fill="#FBCFB8"/><rect x="757.14" y="1061.34" width="24.770" height="41.94" fill="#FCDFCE"/><rect x="781.91" y="1061.34" width="24.770" height="41.94" fill="#F5AE8F"/><rect x="806.68" y="1061.34" width="24.770" height="41.94" fill="#F7BB9F"/><rect x="831.45" y="1061.34" width="24.770" height="41.94" fill="#F29E7B"/><rect x="866.84" y="1061.34" width="24.770" height="41.94" fill="#FBE3D5"/><rect x="891.61" y="1061.34" width="24.770" height="41.94" fill="#F29E7B"/><rect x="916.38" y="1061.34" width="24.770" height="41.94" fill="#F4A685"/><rect x="941.15" y="1061.34" width="24.770" height="41.94" fill="#F7B79A"/><rect x="965.92" y="1061.34" width="24.770" height="41.94" fill="#F5AE8F"/><rect x="1001.31" y="1061.34" width="24.770" height="41.94" fill="#F9EFE9"/><rect x="1026.08" y="1061.34" width="24.770" height="41.94" fill="#EAF1F5"/><rect x="1050.85" y="1061.34" width="24.770" height="41.94" fill="#F5AE8F"/><rect x="1075.62" y="1061.34" width="24.770" height="41.94" fill="#F4A685"/><rect x="1100.39" y="1061.34" width="24.770" height="41.94" fill="#F08E67"/><rect x="1125.16" y="1061.34" width="24.770" height="41.94" fill="#F7B79A"/><rect x="1149.93" y="1061.34" width="24.770" height="41.94" fill="#F8BFA4"/><rect x="1185.32" y="1061.34" width="24.770" height="41.94" fill="#E4EEF4"/><rect x="1210.09" y="1061.34" width="24.770" height="41.94" fill="#64A6CD"/><rect x="1234.86" y="1061.34" width="24.770" height="41.94" fill="#E6EFF4"/><rect x="1259.63" y="1061.34" width="24.770" height="41.94" fill="#82B8D7"/><rect x="1284.40" y="1061.34" width="24.770" height="41.94" fill="#8CBEDB"/><rect x="1309.17" y="1061.34" width="24.770" height="41.94" fill="#7CB5D6"/><rect x="1333.94" y="1061.34" width="24.770" height="41.94" fill="#5C9FCA"/><rect x="1358.71" y="1061.34" width="24.770" height="41.94" fill="#B1D3E6"/>
<rect x="130.80" y="1103.28" width="24.770" height="41.94" fill="#D1E5F0"/><rect x="166.19" y="1103.28" width="24.770" height="41.94" fill="#D1E5F0"/><rect x="190.96" y="1103.28" width="24.770" height="41.94" fill="#D9E9F1"/><rect x="215.73" y="1103.28" width="24.770" height="41.94" fill="#A7CDE3"/><rect x="240.50" y="1103.28" width="24.770" height="41.94" fill="#B6D6E8"/><rect x="265.27" y="1103.28" width="24.770" height="41.94" fill="#FCDFCE"/><rect x="290.04" y="1103.28" width="24.770" height="41.94" fill="#FDDBC7"/><rect x="325.43" y="1103.28" width="24.770" height="41.94" fill="#FCE2D3"/><rect x="350.20" y="1103.28" width="24.770" height="41.94" fill="#82B8D7"/><rect x="374.97" y="1103.28" width="24.770" height="41.94" fill="#F1F4F6"/><rect x="399.74" y="1103.28" width="24.770" height="41.94" fill="#FCDFCE"/><rect x="424.51" y="1103.28" width="24.770" height="41.94" fill="#FDDCC9"/><rect x="449.28" y="1103.28" width="24.770" height="41.94" fill="#FCD7C2"/><rect x="474.05" y="1103.28" width="24.770" height="41.94" fill="#FDDCC9"/><rect x="498.82" y="1103.28" width="24.770" height="41.94" fill="#FAC7AE"/><rect x="523.59" y="1103.28" width="24.770" height="41.94" fill="#FCE2D3"/><rect x="548.36" y="1103.28" width="24.770" height="41.94" fill="#FCE2D3"/><rect x="583.75" y="1103.28" width="24.770" height="41.94" fill="#F5AA8A"/><rect x="608.52" y="1103.28" width="24.770" height="41.94" fill="#E37357"/><rect x="633.29" y="1103.28" width="24.770" height="41.94" fill="#E37357"/><rect x="658.06" y="1103.28" width="24.770" height="41.94" fill="#E37357"/><rect x="682.83" y="1103.28" width="24.770" height="41.94" fill="#E37357"/><rect x="707.60" y="1103.28" width="24.770" height="41.94" fill="#D75C4C"/><rect x="732.37" y="1103.28" width="24.770" height="41.94" fill="#E06E54"/><rect x="757.14" y="1103.28" width="24.770" height="41.94" fill="#DD6852"/><rect x="781.91" y="1103.28" width="24.770" height="41.94" fill="#F29E7B"/><rect x="806.68" y="1103.28" width="24.770" height="41.94" fill="#D75C4C"/><rect x="831.45" y="1103.28" width="24.770" height="41.94" fill="#E97F5D"/><rect x="866.84" y="1103.28" width="24.770" height="41.94" fill="#F6B294"/><rect x="891.61" y="1103.28" width="24.770" height="41.94" fill="#F7F6F5"/><rect x="916.38" y="1103.28" width="24.770" height="41.94" fill="#F7BB9F"/><rect x="941.15" y="1103.28" width="24.770" height="41.94" fill="#F29A76"/><rect x="965.92" y="1103.28" width="24.770" height="41.94" fill="#F8F0EB"/><rect x="1001.31" y="1103.28" width="24.770" height="41.94" fill="#3A7DB8"/><rect x="1026.08" y="1103.28" width="24.770" height="41.94" fill="#7CB5D6"/><rect x="1050.85" y="1103.28" width="24.770" height="41.94" fill="#6CACD1"/><rect x="1075.62" y="1103.28" width="24.770" height="41.94" fill="#72AFD2"/><rect x="1100.39" y="1103.28" width="24.770" height="41.94" fill="#82B8D7"/><rect x="1125.16" y="1103.28" width="24.770" height="41.94" fill="#7CB5D6"/><rect x="1149.93" y="1103.28" width="24.770" height="41.94" fill="#82B8D7"/><rect x="1185.32" y="1103.28" width="24.770" height="41.94" fill="#82B8D7"/><rect x="1210.09" y="1103.28" width="24.770" height="41.94" fill="#64A6CD"/><rect x="1234.86" y="1103.28" width="24.770" height="41.94" fill="#B1D3E6"/><rect x="1259.63" y="1103.28" width="24.770" height="41.94" fill="#DAEAF2"/><rect x="1284.40" y="1103.28" width="24.770" height="41.94" fill="#DEEBF2"/><rect x="1309.17" y="1103.28" width="24.770" height="41.94" fill="#DAEAF2"/><rect x="1333.94" y="1103.28" width="24.770" height="41.94" fill="#EFF3F6"/><rect x="1358.71" y="1103.28" width="24.770" height="41.94" fill="#DCEAF2"/>
<rect x="130.80" y="1145.21" width="24.770" height="41.94" fill="#4E92C3"/><rect x="166.19" y="1145.21" width="24.770" height="41.94" fill="#D1E5F0"/><rect x="190.96" y="1145.21" width="24.770" height="41.94" fill="#D9E9F1"/><rect x="215.73" y="1145.21" width="24.770" height="41.94" fill="#A7CDE3"/><rect x="240.50" y="1145.21" width="24.770" height="41.94" fill="#B6D6E8"/><rect x="265.27" y="1145.21" width="24.770" height="41.94" fill="#F8F0EB"/><rect x="290.04" y="1145.21" width="24.770" height="41.94" fill="#91C1DC"/><rect x="325.43" y="1145.21" width="24.770" height="41.94" fill="#FCDECC"/><rect x="350.20" y="1145.21" width="24.770" height="41.94" fill="#FBCFB8"/><rect x="374.97" y="1145.21" width="24.770" height="41.94" fill="#F9EDE6"/><rect x="399.74" y="1145.21" width="24.770" height="41.94" fill="#E06E54"/><rect x="424.51" y="1145.21" width="24.770" height="41.94" fill="#E6795A"/><rect x="449.28" y="1145.21" width="24.770" height="41.94" fill="#E97F5D"/><rect x="474.05" y="1145.21" width="24.770" height="41.94" fill="#EC845F"/><rect x="498.82" y="1145.21" width="24.770" height="41.94" fill="#D75C4C"/><rect x="523.59" y="1145.21" width="24.770" height="41.94" fill="#F29A76"/><rect x="548.36" y="1145.21" width="24.770" height="41.94" fill="#E97F5D"/><rect x="583.75" y="1145.21" width="24.770" height="41.94" fill="#F29E7B"/><rect x="608.52" y="1145.21" width="24.770" height="41.94" fill="#E97F5D"/><rect x="633.29" y="1145.21" width="24.770" height="41.94" fill="#E97F5D"/><rect x="658.06" y="1145.21" width="24.770" height="41.94" fill="#EC845F"/><rect x="682.83" y="1145.21" width="24.770" height="41.94" fill="#EC845F"/><rect x="707.60" y="1145.21" width="24.770" height="41.94" fill="#F08E67"/><rect x="732.37" y="1145.21" width="24.770" height="41.94" fill="#E97F5D"/><rect x="757.14" y="1145.21" width="24.770" height="41.94" fill="#E97F5D"/><rect x="781.91" y="1145.21" width="24.770" height="41.94" fill="#FAC7AE"/><rect x="806.68" y="1145.21" width="24.770" height="41.94" fill="#EF8A62"/><rect x="831.45" y="1145.21" width="24.770" height="41.94" fill="#F9C3A9"/><rect x="866.84" y="1145.21" width="24.770" height="41.94" fill="#F7B79A"/><rect x="891.61" y="1145.21" width="24.770" height="41.94" fill="#F1F4F6"/><rect x="916.38" y="1145.21" width="24.770" height="41.94" fill="#F7BB9F"/><rect x="941.15" y="1145.21" width="24.770" height="41.94" fill="#EF8A62"/><rect x="965.92" y="1145.21" width="24.770" height="41.94" fill="#FAEAE1"/><rect x="1001.31" y="1145.21" width="24.770" height="41.94" fill="#D5E7F1"/><rect x="1026.08" y="1145.21" width="24.770" height="41.94" fill="#D1E5F0"/><rect x="1050.85" y="1145.21" width="24.770" height="41.94" fill="#CCE2EE"/><rect x="1075.62" y="1145.21" width="24.770" height="41.94" fill="#DEEBF2"/><rect x="1100.39" y="1145.21" width="24.770" height="41.94" fill="#F8F0EB"/><rect x="1125.16" y="1145.21" width="24.770" height="41.94" fill="#E4EEF4"/><rect x="1149.93" y="1145.21" width="24.770" height="41.94" fill="#E4EEF4"/><rect x="1185.32" y="1145.21" width="24.770" height="41.94" fill="#82B8D7"/><rect x="1210.09" y="1145.21" width="24.770" height="41.94" fill="#64A6CD"/><rect x="1234.86" y="1145.21" width="24.770" height="41.94" fill="#67A9CF"/><rect x="1259.63" y="1145.21" width="24.770" height="41.94" fill="#5C9FCA"/><rect x="1284.40" y="1145.21" width="24.770" height="41.94" fill="#D5E7F1"/><rect x="1309.17" y="1145.21" width="24.770" height="41.94" fill="#60A2CC"/><rect x="1333.94" y="1145.21" width="24.770" height="41.94" fill="#D5E7F1"/><rect x="1358.71" y="1145.21" width="24.770" height="41.94" fill="#82B8D7"/>
</g>
<path id="dendrogram" d="M199.47 32.50V2.20H870.81V10.00M143.19 138.00V32.50H245.14V44.20M200.25 87.60V44.20H290.04V72.70M178.58 138.00V87.60H221.92V99.80M203.35 138.00V99.80H240.50V112.50M228.12 138.00V112.50H252.89V138.00M277.65 138.00V72.70H302.43V138.00M603.88 25.80V10.00H1137.74V24.40M387.74 42.00V25.80H809.39V38.50M350.20 67.80V42.00H425.28V62.90M337.82 138.00V67.80H362.59V138.00M387.36 138.00V62.90H463.21V72.70M424.51 94.10V72.70H501.92V84.10M412.12 138.00V94.10H436.90V138.00M474.05 128.00V84.10H529.78V94.90M461.67 138.00V128.00H486.44V138.00M511.21 138.00V94.90H548.36V107.90M535.98 138.00V107.90H560.75V138.00M697.54 60.20V38.50H931.86V56.10M619.36 96.80V60.20H775.72V86.00M596.13 138.00V96.80H642.58V110.90M620.91 138.00V110.90H664.25V129.60M645.68 138.00V129.60H682.83V134.20M670.45 138.00V134.20H695.22V138.00M738.56 111.20V86.00H812.87V100.30M719.99 138.00V111.20H757.14V118.20M744.75 138.00V118.20H769.52V138.00M794.29 138.00V100.30H831.45V118.20M819.06 138.00V118.20H843.83V138.00M897.80 93.00V56.10H965.92V74.60M879.22 138.00V93.00H916.38V99.80M904.00 138.00V99.80H928.77V138.00M953.54 138.00V74.60H978.31V138.00M1038.08 75.10V24.40H1248.02V48.00M1013.70 138.00V75.10H1062.46V85.40M1038.46 138.00V85.40H1086.46V107.70M1063.23 138.00V107.70H1109.68V119.30M1088.00 138.00V119.30H1131.35V121.20M1112.77 138.00V121.20H1149.93V135.60M1137.54 138.00V135.60H1162.31V138.00M1210.09 77.60V48.00H1285.95V70.00M1197.70 138.00V77.60H1222.47V138.00M1247.24 138.00V70.00H1324.65V72.10M1290.59 89.20V72.10H1358.71V85.40M1272.01 138.00V89.20H1309.17V112.80M1296.78 138.00V112.80H1321.56V138.00M1346.33 138.00V85.40H1371.10V138.00" fill="none" stroke="#000" stroke-width="1.9" stroke-linejoin="round"/>
<g id="rowlabels">
<text x="1391.6" y="169.17">1</text><text x="1391.6" y="211.10">2</text><text x="1391.6" y="253.04">3</text><text x="1391.6" y="294.98">4</text><text x="1391.6" y="336.91">5</text><text x="1391.6" y="378.85">6</text><text x="1391.6" y="420.78">7</text><text x="1391.6" y="462.72">8</text><text x="1391.6" y="504.66">9</text><text x="1391.6" y="546.59">10</text><text x="1391.6" y="588.53">11</text><text x="1391.6" y="630.46">12</text><text x="1391.6" y="672.40">13</text><text x="1391.6" y="714.34">14</text><text x="1391.6" y="756.27">16</text><text x="1391.6" y="798.21">17</text><text x="1391.6" y="840.14">18</text><text x="1391.6" y="882.08">19</text><text x="1391.6" y="924.02">20</text><text x="1391.6" y="965.95">25</text><text x="1391.6" y="1007.89">26</text><text x="1391.6" y="1049.82">21</text><text x="1391.6" y="1091.76">22</text><text x="1391.6" y="1133.70">23</text><text x="1391.6" y="1175.63">24</text>
</g>
<g id="collabels">
<text transform="translate(134.19 1196.1) rotate(90)">Q4</text><text transform="translate(169.58 1196.1) rotate(90)">P12</text><text transform="translate(194.34 1196.1) rotate(90)">P8</text><text transform="translate(219.12 1196.1) rotate(90)">P9</text><text transform="translate(243.88 1196.1) rotate(90)">P10</text><text transform="translate(268.65 1196.1) rotate(90)">P13</text><text transform="translate(293.43 1196.1) rotate(90)">P21</text><text transform="translate(328.81 1196.1) rotate(90)">Q8</text><text transform="translate(353.59 1196.1) rotate(90)">Q27</text><text transform="translate(378.36 1196.1) rotate(90)">Q15</text><text transform="translate(403.12 1196.1) rotate(90)">Q23</text><text transform="translate(427.89 1196.1) rotate(90)">Q26</text><text transform="translate(452.67 1196.1) rotate(90)">Q16</text><text transform="translate(477.44 1196.1) rotate(90)">Q17</text><text transform="translate(502.20 1196.1) rotate(90)">Q20</text><text transform="translate(526.98 1196.1) rotate(90)">Q18</text><text transform="translate(551.75 1196.1) rotate(90)">Q19</text><text transform="translate(587.13 1196.1) rotate(90)">P19</text><text transform="translate(611.91 1196.1) rotate(90)">P69</text><text transform="translate(636.68 1196.1) rotate(90)">P51</text><text transform="translate(661.45 1196.1) rotate(90)">P55</text><text transform="translate(686.22 1196.1) rotate(90)">P59</text><text transform="translate(710.99 1196.1) rotate(90)">P85</text><text transform="translate(735.75 1196.1) rotate(90)">P61</text><text transform="translate(760.52 1196.1) rotate(90)">P81</text><text transform="translate(785.29 1196.1) rotate(90)">P89</text><text transform="translate(810.06 1196.1) rotate(90)">P65</text><text transform="translate(834.83 1196.1) rotate(90)">P67</text><text transform="translate(870.22 1196.1) rotate(90)">Q6</text><text transform="translate(895.00 1196.1) rotate(90)">Q7</text><text transform="translate(919.77 1196.1) rotate(90)">Q9</text><text transform="translate(944.54 1196.1) rotate(90)">Q2</text><text transform="translate(969.31 1196.1) rotate(90)">Q30</text><text transform="translate(1004.70 1196.1) rotate(90)">Q22</text><text transform="translate(1029.46 1196.1) rotate(90)">Q32</text><text transform="translate(1054.23 1196.1) rotate(90)">Q12</text><text transform="translate(1079.00 1196.1) rotate(90)">Q21</text><text transform="translate(1103.77 1196.1) rotate(90)">Q35</text><text transform="translate(1128.54 1196.1) rotate(90)">Q33</text><text transform="translate(1153.31 1196.1) rotate(90)">Q34</text><text transform="translate(1188.70 1196.1) rotate(90)">Q10</text><text transform="translate(1213.47 1196.1) rotate(90)">Q11</text><text transform="translate(1238.24 1196.1) rotate(90)">Q1</text><text transform="translate(1263.01 1196.1) rotate(90)">Q28</text><text transform="translate(1287.78 1196.1) rotate(90)">Q24</text><text transform="translate(1312.56 1196.1) rotate(90)">Q29</text><text transform="translate(1337.33 1196.1) rotate(90)">Q25</text><text transform="translate(1362.10 1196.1) rotate(90)">Q31</text>
</g>
<g id="annolabels" class="b">
<text class="b" transform="translate(6.77 1195.9) rotate(90)">Accession</text><text class="b" transform="translate(37.98 1195.9) rotate(90)">Species</text><text class="b" transform="translate(69.28 1195.9) rotate(90)">Treatment</text><text class="b" transform="translate(100.53 1195.9) rotate(90)">Climate Background</text>
</g>
<rect x="1440.90" y="138.40" width="25.90" height="390.40" fill="url(#cb)"/>
<text x="1476.3" y="182.20">2</text><text x="1476.3" y="263.95">1</text><text x="1476.3" y="345.70">0</text><text x="1476.3" y="427.45">-1</text><text x="1476.3" y="509.20">-2</text>
<text class="b" x="1518.20" y="157.40">Accession</text><rect x="1518.00" y="170.10" width="41.50" height="41.58" fill="#FF0000" stroke="#828282" stroke-width="1.60"/><text x="1568.00" y="200.09">1</text><rect x="1518.00" y="211.68" width="41.50" height="41.58" fill="#FF7600" stroke="#828282" stroke-width="1.60"/><text x="1568.00" y="241.67">10</text><rect x="1518.00" y="253.26" width="41.50" height="41.58" fill="#FFEB00" stroke="#828282" stroke-width="1.60"/><text x="1568.00" y="283.25">11</text><rect x="1518.00" y="294.84" width="41.50" height="41.58" fill="#9DFF00" stroke="#828282" stroke-width="1.60"/><text x="1568.00" y="324.83">12</text><rect x="1518.00" y="336.42" width="41.50" height="41.58" fill="#27FF00" stroke="#828282" stroke-width="1.60"/><text x="1568.00" y="366.41">13</text><rect x="1518.00" y="378.00" width="41.50" height="41.58" fill="#00FF4E" stroke="#828282" stroke-width="1.60"/><text x="1568.00" y="407.99">2</text><rect x="1518.00" y="419.58" width="41.50" height="41.58" fill="#00FFC4" stroke="#828282" stroke-width="1.60"/><text x="1568.00" y="449.57">3</text><rect x="1518.00" y="461.16" width="41.50" height="41.58" fill="#00C4FF" stroke="#828282" stroke-width="1.60"/><text x="1568.00" y="491.15">4</text><rect x="1518.00" y="502.74" width="41.50" height="41.58" fill="#004EFF" stroke="#828282" stroke-width="1.60"/><text x="1568.00" y="532.73">5</text><rect x="1518.00" y="544.32" width="41.50" height="41.58" fill="#2700FF" stroke="#828282" stroke-width="1.60"/><text x="1568.00" y="574.31">6</text><rect x="1518.00" y="585.90" width="41.50" height="41.58" fill="#9D00FF" stroke="#828282" stroke-width="1.60"/><text x="1568.00" y="615.89">7</text><rect x="1518.00" y="627.48" width="41.50" height="41.58" fill="#FF00EB" stroke="#828282" stroke-width="1.60"/><text x="1568.00" y="657.47">8</text><rect x="1518.00" y="669.06" width="41.50" height="41.58" fill="#FF0076" stroke="#828282" stroke-width="1.60"/><text x="1568.00" y="699.05">9</text>
<text class="b" x="1518.20" y="760.90">Species</text><rect x="1518.00" y="773.90" width="41.50" height="41.58" fill="#66C2A5" stroke="#828282" stroke-width="1.60"/><text x="1568.00" y="803.89">P. lunatus</text><rect x="1518.00" y="815.48" width="41.50" height="41.58" fill="#FC8D62" stroke="#828282" stroke-width="1.60"/><text x="1568.00" y="845.47">P. vulgaris</text><rect x="1518.00" y="857.06" width="41.50" height="41.58" fill="#8DA0CB" stroke="#828282" stroke-width="1.60"/><text x="1568.00" y="887.05">Vigna sp</text>
<text class="b" x="1518.20" y="948.60">Treatment</text><rect x="1518.00" y="961.20" width="41.50" height="41.58" fill="#66C2A5" stroke="#828282" stroke-width="1.60"/><text x="1568.00" y="991.19">Field</text><rect x="1518.00" y="1002.78" width="41.50" height="41.58" fill="#FC8D62" stroke="#828282" stroke-width="1.60"/><text x="1568.00" y="1032.77">Greenhouse</text>
<text class="b" x="1518.20" y="1094.80">Climate Background</text><rect x="1518.00" y="1107.00" width="41.50" height="41.58" fill="#66C2A5" stroke="#828282" stroke-width="1.60"/><text x="1568.00" y="1136.99">Cold</text><rect x="1518.00" y="1148.58" width="41.50" height="41.58" fill="#FC8D62" stroke="#828282" stroke-width="1.60"/><text x="1568.00" y="1178.57">Commercial</text><rect x="1518.00" y="1190.16" width="41.50" height="41.58" fill="#8DA0CB" stroke="#828282" stroke-width="1.60"/><text x="1568.00" y="1220.15">Warm</text>
</svg>
</body></html>
